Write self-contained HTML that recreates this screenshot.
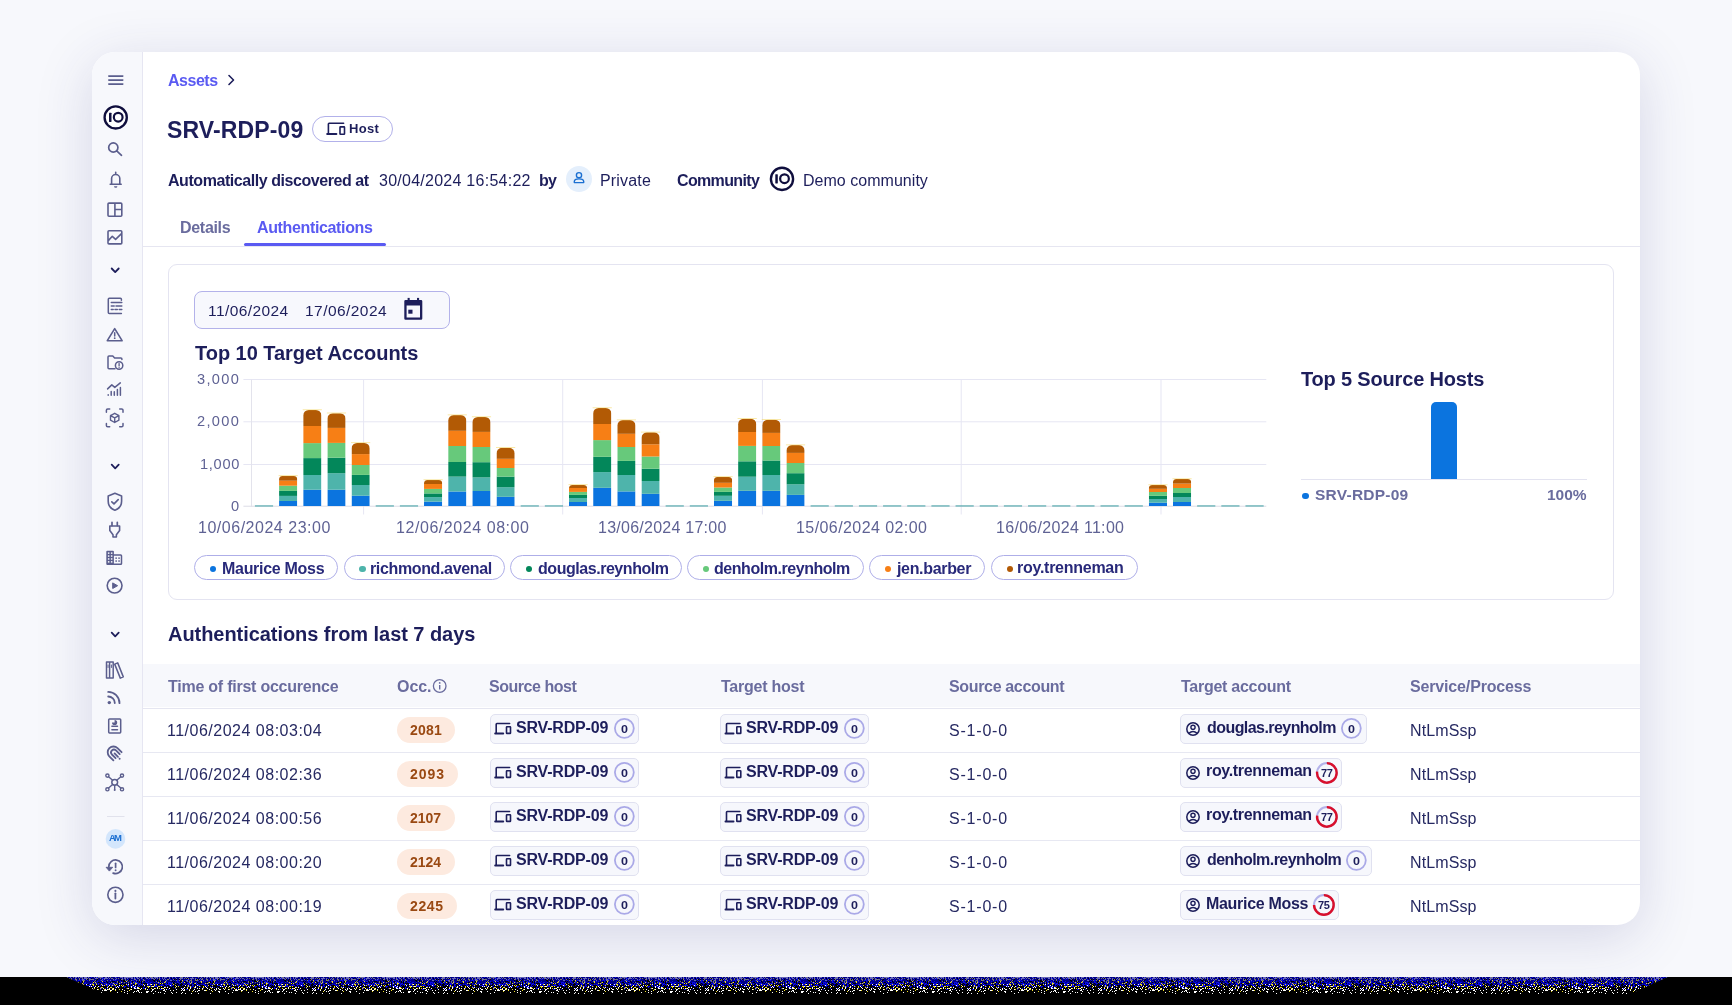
<!DOCTYPE html>
<html><head><meta charset="utf-8"><style>
html,body{margin:0;padding:0;}
body{width:1732px;height:1005px;position:relative;overflow:hidden;background:#f7f8fc;font-family:'Liberation Sans', sans-serif;}
.t{position:absolute;white-space:nowrap;line-height:1;will-change:transform;}
svg{overflow:visible}
</style></head><body>
<div style="position:absolute;left:92.0px;top:52.0px;width:1548.0px;height:873.0px;background:#fff;border-radius:23px;box-shadow:0 12px 56px rgba(50,50,125,0.17);"></div>
<div style="position:absolute;left:92.0px;top:52.0px;width:50.0px;height:873.0px;background:#f7f8fc;border-radius:23px 0 0 23px;border-right:1.5px solid #e6e6f2;"></div>
<div class="t" id="t1" style="left:168.00px;top:72.7px;font-size:16px;font-weight:700;color:#5a5af2;letter-spacing:-0.480px;">Assets</div>
<svg style="position:absolute;left:226px;top:74px" width="10" height="12" viewBox="0 0 10 12"><path d="M3 1.5 L7.5 6 L3 10.5" fill="none" stroke="#1d1e5b" stroke-width="1.6" stroke-linecap="round" stroke-linejoin="round"/></svg>
<div class="t" id="t2" style="left:167.00px;top:119.3px;font-size:23px;font-weight:700;color:#1d1e5b;letter-spacing:0.135px;">SRV-RDP-09</div>
<div style="position:absolute;left:312.4px;top:116.1px;width:80.4px;height:25.6px;box-sizing:border-box;border:1.5px solid #b2b1ea;border-radius:13px;"></div>
<div class="t" id="t3" style="left:349.00px;top:121.9px;font-size:13px;font-weight:700;color:#1d1e5b;letter-spacing:0.333px;">Host</div>
<div class="t" id="t4" style="left:167.70px;top:172.9px;font-size:16px;font-weight:700;color:#1d1e5b;letter-spacing:-0.438px;">Automatically discovered at</div>
<div class="t" id="t5" style="left:379.30px;top:172.9px;font-size:16px;font-weight:400;color:#1d1e5b;letter-spacing:0.258px;">30/04/2024 16:54:22</div>
<div class="t" id="t6" style="left:539.00px;top:172.9px;font-size:16px;font-weight:700;color:#1d1e5b;letter-spacing:-0.800px;">by</div>
<div style="position:absolute;left:566.0px;top:165.7px;width:26.0px;height:26.0px;background:#e4effc;border-radius:50%;"></div>
<div class="t" id="t7" style="left:600.00px;top:172.9px;font-size:16px;font-weight:400;color:#1d1e5b;letter-spacing:0.167px;">Private</div>
<div class="t" id="t8" style="left:676.60px;top:172.9px;font-size:16px;font-weight:700;color:#1d1e5b;letter-spacing:-0.650px;">Community</div>
<div class="t" id="t9" style="left:802.80px;top:172.9px;font-size:16px;font-weight:400;color:#1d1e5b;letter-spacing:0.029px;">Demo community</div>
<div class="t" id="t10" style="left:179.60px;top:219.8px;font-size:16px;font-weight:700;color:#6a6c9e;letter-spacing:-0.301px;">Details</div>
<div class="t" id="t11" style="left:257.00px;top:219.8px;font-size:16px;font-weight:700;color:#5a5af2;letter-spacing:-0.357px;">Authentications</div>
<div style="position:absolute;left:243.8px;top:243.3px;width:141.8px;height:2.6px;background:#5a5af2;border-radius:2px;"></div>
<div style="position:absolute;left:143.0px;top:246.0px;width:1497.0px;height:1.0px;background:#e6e6f1;"></div>
<div style="position:absolute;left:167.5px;top:264.3px;width:1446.5px;height:335.7px;box-sizing:border-box;border:1px solid #e4e4f1;border-radius:9px;"></div>
<div style="position:absolute;left:194.4px;top:291.3px;width:256.0px;height:38.0px;box-sizing:border-box;background:#f7f8fd;border:1.2px solid #b3b2ea;border-radius:8px;"></div>
<div class="t" id="t12" style="left:207.90px;top:302.6px;font-size:15.5px;font-weight:400;color:#1d1e5b;letter-spacing:0.421px;">11/06/2024</div>
<div class="t" id="t13" style="left:305.30px;top:302.6px;font-size:15.5px;font-weight:400;color:#1d1e5b;letter-spacing:0.444px;">17/06/2024</div>
<div class="t" id="t14" style="left:195.30px;top:342.7px;font-size:20px;font-weight:700;color:#1d1e5b;letter-spacing:-0.037px;">Top 10 Target Accounts</div>
<svg style="position:absolute;left:0px;top:0px" width="1732" height="1005" viewBox="0 0 1732 1005"><rect x="243.4" y="379.0" width="1022.9" height="1" fill="#e6e6f3"/><rect x="243.4" y="421.3" width="1022.9" height="1" fill="#e6e6f3"/><rect x="243.4" y="464.0" width="1022.9" height="1" fill="#e6e6f3"/><rect x="251" y="379.5" width="1" height="127" fill="#e3e3ec"/><rect x="363.1" y="379.5" width="1" height="135" fill="#e6e6f3"/><rect x="562.2" y="379.5" width="1" height="135" fill="#e6e6f3"/><rect x="761.9" y="379.5" width="1" height="135" fill="#e6e6f3"/><rect x="960.7" y="379.5" width="1" height="135" fill="#e6e6f3"/><rect x="1160.5" y="379.5" width="1" height="135" fill="#e6e6f3"/><rect x="243.4" y="505.7" width="1022.9" height="1" fill="#dcdce6"/><rect x="254.90" y="505.4" width="18.2" height="1.1" fill="#4ba6aa"/><clipPath id="c1"><rect x="279.06" y="475.90" width="18.2" height="36.10" rx="3.5" ry="3.5"/></clipPath><g clip-path="url(#c1)"><rect x="279.06" y="501.00" width="18.2" height="5.00" fill="#0b74df"/><rect x="279.06" y="495.90" width="18.2" height="5.10" fill="#4eb4ab"/><rect x="279.06" y="490.90" width="18.2" height="5.00" fill="#03875a"/><rect x="279.06" y="485.70" width="18.2" height="5.20" fill="#67c97b"/><rect x="279.06" y="480.70" width="18.2" height="5.00" fill="#f77f15"/><rect x="279.06" y="475.90" width="18.2" height="4.80" fill="#b25a05"/></g><rect x="278.56" y="475.30" width="19.2" height="0.8" fill="#f2d04a" opacity="0.6"/><clipPath id="c2"><rect x="303.22" y="410.00" width="18.2" height="102.00" rx="5.5" ry="5.5"/></clipPath><g clip-path="url(#c2)"><rect x="303.22" y="489.70" width="18.2" height="16.30" fill="#0b74df"/><rect x="303.22" y="475.00" width="18.2" height="14.70" fill="#4eb4ab"/><rect x="303.22" y="458.10" width="18.2" height="16.90" fill="#03875a"/><rect x="303.22" y="443.10" width="18.2" height="15.00" fill="#67c97b"/><rect x="303.22" y="426.00" width="18.2" height="17.10" fill="#f77f15"/><rect x="303.22" y="410.00" width="18.2" height="16.00" fill="#b25a05"/></g><rect x="302.72" y="409.40" width="19.2" height="0.8" fill="#f2d04a" opacity="0.6"/><clipPath id="c3"><rect x="327.38" y="413.20" width="18.2" height="98.80" rx="5.5" ry="5.5"/></clipPath><g clip-path="url(#c3)"><rect x="327.38" y="489.70" width="18.2" height="16.30" fill="#0b74df"/><rect x="327.38" y="473.20" width="18.2" height="16.50" fill="#4eb4ab"/><rect x="327.38" y="457.70" width="18.2" height="15.50" fill="#03875a"/><rect x="327.38" y="442.90" width="18.2" height="14.80" fill="#67c97b"/><rect x="327.38" y="427.90" width="18.2" height="15.00" fill="#f77f15"/><rect x="327.38" y="413.20" width="18.2" height="14.70" fill="#b25a05"/></g><rect x="326.88" y="412.60" width="19.2" height="0.8" fill="#f2d04a" opacity="0.6"/><clipPath id="c4"><rect x="351.54" y="442.90" width="18.2" height="69.10" rx="5.5" ry="5.5"/></clipPath><g clip-path="url(#c4)"><rect x="351.54" y="495.70" width="18.2" height="10.30" fill="#0b74df"/><rect x="351.54" y="485.00" width="18.2" height="10.70" fill="#4eb4ab"/><rect x="351.54" y="474.90" width="18.2" height="10.10" fill="#03875a"/><rect x="351.54" y="465.00" width="18.2" height="9.90" fill="#67c97b"/><rect x="351.54" y="454.10" width="18.2" height="10.90" fill="#f77f15"/><rect x="351.54" y="442.90" width="18.2" height="11.20" fill="#b25a05"/></g><rect x="351.04" y="442.30" width="19.2" height="0.8" fill="#f2d04a" opacity="0.6"/><rect x="375.70" y="505.4" width="18.2" height="1.1" fill="#4ba6aa"/><rect x="399.86" y="505.4" width="18.2" height="1.1" fill="#4ba6aa"/><clipPath id="c7"><rect x="424.02" y="480.00" width="18.2" height="32.00" rx="3.5" ry="3.5"/></clipPath><g clip-path="url(#c7)"><rect x="424.02" y="501.60" width="18.2" height="4.40" fill="#0b74df"/><rect x="424.02" y="497.10" width="18.2" height="4.50" fill="#4eb4ab"/><rect x="424.02" y="493.40" width="18.2" height="3.70" fill="#03875a"/><rect x="424.02" y="488.90" width="18.2" height="4.50" fill="#67c97b"/><rect x="424.02" y="484.00" width="18.2" height="4.90" fill="#f77f15"/><rect x="424.02" y="480.00" width="18.2" height="4.00" fill="#b25a05"/></g><rect x="423.52" y="479.40" width="19.2" height="0.8" fill="#f2d04a" opacity="0.6"/><clipPath id="c8"><rect x="448.18" y="415.10" width="18.2" height="96.90" rx="5.5" ry="5.5"/></clipPath><g clip-path="url(#c8)"><rect x="448.18" y="491.50" width="18.2" height="14.50" fill="#0b74df"/><rect x="448.18" y="476.60" width="18.2" height="14.90" fill="#4eb4ab"/><rect x="448.18" y="462.00" width="18.2" height="14.60" fill="#03875a"/><rect x="448.18" y="446.00" width="18.2" height="16.00" fill="#67c97b"/><rect x="448.18" y="430.80" width="18.2" height="15.20" fill="#f77f15"/><rect x="448.18" y="415.10" width="18.2" height="15.70" fill="#b25a05"/></g><rect x="447.68" y="414.50" width="19.2" height="0.8" fill="#f2d04a" opacity="0.6"/><clipPath id="c9"><rect x="472.34" y="417.00" width="18.2" height="95.00" rx="5.5" ry="5.5"/></clipPath><g clip-path="url(#c9)"><rect x="472.34" y="491.00" width="18.2" height="15.00" fill="#0b74df"/><rect x="472.34" y="477.40" width="18.2" height="13.60" fill="#4eb4ab"/><rect x="472.34" y="462.20" width="18.2" height="15.20" fill="#03875a"/><rect x="472.34" y="447.00" width="18.2" height="15.20" fill="#67c97b"/><rect x="472.34" y="431.90" width="18.2" height="15.10" fill="#f77f15"/><rect x="472.34" y="417.00" width="18.2" height="14.90" fill="#b25a05"/></g><rect x="471.84" y="416.40" width="19.2" height="0.8" fill="#f2d04a" opacity="0.6"/><clipPath id="c10"><rect x="496.50" y="447.80" width="18.2" height="64.20" rx="5.5" ry="5.5"/></clipPath><g clip-path="url(#c10)"><rect x="496.50" y="496.80" width="18.2" height="9.20" fill="#0b74df"/><rect x="496.50" y="487.20" width="18.2" height="9.60" fill="#4eb4ab"/><rect x="496.50" y="476.60" width="18.2" height="10.60" fill="#03875a"/><rect x="496.50" y="468.00" width="18.2" height="8.60" fill="#67c97b"/><rect x="496.50" y="458.80" width="18.2" height="9.20" fill="#f77f15"/><rect x="496.50" y="447.80" width="18.2" height="11.00" fill="#b25a05"/></g><rect x="496.00" y="447.20" width="19.2" height="0.8" fill="#f2d04a" opacity="0.6"/><rect x="520.66" y="505.4" width="18.2" height="1.1" fill="#4ba6aa"/><rect x="544.82" y="505.4" width="18.2" height="1.1" fill="#4ba6aa"/><clipPath id="c13"><rect x="568.98" y="484.90" width="18.2" height="27.10" rx="3.5" ry="3.5"/></clipPath><g clip-path="url(#c13)"><rect x="568.98" y="502.00" width="18.2" height="4.00" fill="#0b74df"/><rect x="568.98" y="498.00" width="18.2" height="4.00" fill="#4eb4ab"/><rect x="568.98" y="494.90" width="18.2" height="3.10" fill="#03875a"/><rect x="568.98" y="491.90" width="18.2" height="3.00" fill="#67c97b"/><rect x="568.98" y="488.00" width="18.2" height="3.90" fill="#f77f15"/><rect x="568.98" y="484.90" width="18.2" height="3.10" fill="#b25a05"/></g><rect x="568.48" y="484.30" width="19.2" height="0.8" fill="#f2d04a" opacity="0.6"/><clipPath id="c14"><rect x="593.14" y="408.00" width="18.2" height="104.00" rx="5.5" ry="5.5"/></clipPath><g clip-path="url(#c14)"><rect x="593.14" y="487.80" width="18.2" height="18.20" fill="#0b74df"/><rect x="593.14" y="472.10" width="18.2" height="15.70" fill="#4eb4ab"/><rect x="593.14" y="456.80" width="18.2" height="15.30" fill="#03875a"/><rect x="593.14" y="440.10" width="18.2" height="16.70" fill="#67c97b"/><rect x="593.14" y="424.00" width="18.2" height="16.10" fill="#f77f15"/><rect x="593.14" y="408.00" width="18.2" height="16.00" fill="#b25a05"/></g><rect x="592.64" y="407.40" width="19.2" height="0.8" fill="#f2d04a" opacity="0.6"/><clipPath id="c15"><rect x="617.30" y="420.10" width="18.2" height="91.90" rx="5.5" ry="5.5"/></clipPath><g clip-path="url(#c15)"><rect x="617.30" y="491.40" width="18.2" height="14.60" fill="#0b74df"/><rect x="617.30" y="475.00" width="18.2" height="16.40" fill="#4eb4ab"/><rect x="617.30" y="460.90" width="18.2" height="14.10" fill="#03875a"/><rect x="617.30" y="447.00" width="18.2" height="13.90" fill="#67c97b"/><rect x="617.30" y="433.80" width="18.2" height="13.20" fill="#f77f15"/><rect x="617.30" y="420.10" width="18.2" height="13.70" fill="#b25a05"/></g><rect x="616.80" y="419.50" width="19.2" height="0.8" fill="#f2d04a" opacity="0.6"/><clipPath id="c16"><rect x="641.46" y="432.30" width="18.2" height="79.70" rx="5.5" ry="5.5"/></clipPath><g clip-path="url(#c16)"><rect x="641.46" y="493.80" width="18.2" height="12.20" fill="#0b74df"/><rect x="641.46" y="481.00" width="18.2" height="12.80" fill="#4eb4ab"/><rect x="641.46" y="468.70" width="18.2" height="12.30" fill="#03875a"/><rect x="641.46" y="456.50" width="18.2" height="12.20" fill="#67c97b"/><rect x="641.46" y="444.30" width="18.2" height="12.20" fill="#f77f15"/><rect x="641.46" y="432.30" width="18.2" height="12.00" fill="#b25a05"/></g><rect x="640.96" y="431.70" width="19.2" height="0.8" fill="#f2d04a" opacity="0.6"/><rect x="665.62" y="505.4" width="18.2" height="1.1" fill="#4ba6aa"/><rect x="689.78" y="505.4" width="18.2" height="1.1" fill="#4ba6aa"/><clipPath id="c19"><rect x="713.94" y="476.90" width="18.2" height="35.10" rx="3.5" ry="3.5"/></clipPath><g clip-path="url(#c19)"><rect x="713.94" y="500.80" width="18.2" height="5.20" fill="#0b74df"/><rect x="713.94" y="495.80" width="18.2" height="5.00" fill="#4eb4ab"/><rect x="713.94" y="491.90" width="18.2" height="3.90" fill="#03875a"/><rect x="713.94" y="487.50" width="18.2" height="4.40" fill="#67c97b"/><rect x="713.94" y="482.80" width="18.2" height="4.70" fill="#f77f15"/><rect x="713.94" y="476.90" width="18.2" height="5.90" fill="#b25a05"/></g><rect x="713.44" y="476.30" width="19.2" height="0.8" fill="#f2d04a" opacity="0.6"/><clipPath id="c20"><rect x="738.10" y="418.70" width="18.2" height="93.30" rx="5.5" ry="5.5"/></clipPath><g clip-path="url(#c20)"><rect x="738.10" y="490.80" width="18.2" height="15.20" fill="#0b74df"/><rect x="738.10" y="476.70" width="18.2" height="14.10" fill="#4eb4ab"/><rect x="738.10" y="461.30" width="18.2" height="15.40" fill="#03875a"/><rect x="738.10" y="445.90" width="18.2" height="15.40" fill="#67c97b"/><rect x="738.10" y="432.00" width="18.2" height="13.90" fill="#f77f15"/><rect x="738.10" y="418.70" width="18.2" height="13.30" fill="#b25a05"/></g><rect x="737.60" y="418.10" width="19.2" height="0.8" fill="#f2d04a" opacity="0.6"/><clipPath id="c21"><rect x="762.26" y="419.70" width="18.2" height="92.30" rx="5.5" ry="5.5"/></clipPath><g clip-path="url(#c21)"><rect x="762.26" y="490.80" width="18.2" height="15.20" fill="#0b74df"/><rect x="762.26" y="475.00" width="18.2" height="15.80" fill="#4eb4ab"/><rect x="762.26" y="460.50" width="18.2" height="14.50" fill="#03875a"/><rect x="762.26" y="446.00" width="18.2" height="14.50" fill="#67c97b"/><rect x="762.26" y="432.90" width="18.2" height="13.10" fill="#f77f15"/><rect x="762.26" y="419.70" width="18.2" height="13.20" fill="#b25a05"/></g><rect x="761.76" y="419.10" width="19.2" height="0.8" fill="#f2d04a" opacity="0.6"/><clipPath id="c22"><rect x="786.42" y="445.10" width="18.2" height="66.90" rx="5.5" ry="5.5"/></clipPath><g clip-path="url(#c22)"><rect x="786.42" y="494.90" width="18.2" height="11.10" fill="#0b74df"/><rect x="786.42" y="484.30" width="18.2" height="10.60" fill="#4eb4ab"/><rect x="786.42" y="473.20" width="18.2" height="11.10" fill="#03875a"/><rect x="786.42" y="463.00" width="18.2" height="10.20" fill="#67c97b"/><rect x="786.42" y="452.90" width="18.2" height="10.10" fill="#f77f15"/><rect x="786.42" y="445.10" width="18.2" height="7.80" fill="#b25a05"/></g><rect x="785.92" y="444.50" width="19.2" height="0.8" fill="#f2d04a" opacity="0.6"/><rect x="810.58" y="505.4" width="18.2" height="1.1" fill="#4ba6aa"/><rect x="834.74" y="505.4" width="18.2" height="1.1" fill="#4ba6aa"/><rect x="858.90" y="505.4" width="18.2" height="1.1" fill="#4ba6aa"/><rect x="883.06" y="505.4" width="18.2" height="1.1" fill="#4ba6aa"/><rect x="907.22" y="505.4" width="18.2" height="1.1" fill="#4ba6aa"/><rect x="931.38" y="505.4" width="18.2" height="1.1" fill="#4ba6aa"/><rect x="955.54" y="505.4" width="18.2" height="1.1" fill="#4ba6aa"/><rect x="979.70" y="505.4" width="18.2" height="1.1" fill="#4ba6aa"/><rect x="1003.86" y="505.4" width="18.2" height="1.1" fill="#4ba6aa"/><rect x="1028.02" y="505.4" width="18.2" height="1.1" fill="#4ba6aa"/><rect x="1052.18" y="505.4" width="18.2" height="1.1" fill="#4ba6aa"/><rect x="1076.34" y="505.4" width="18.2" height="1.1" fill="#4ba6aa"/><rect x="1100.50" y="505.4" width="18.2" height="1.1" fill="#4ba6aa"/><rect x="1124.66" y="505.4" width="18.2" height="1.1" fill="#4ba6aa"/><clipPath id="c37"><rect x="1148.82" y="485.00" width="18.2" height="27.00" rx="3.5" ry="3.5"/></clipPath><g clip-path="url(#c37)"><rect x="1148.82" y="502.70" width="18.2" height="3.30" fill="#0b74df"/><rect x="1148.82" y="499.00" width="18.2" height="3.70" fill="#4eb4ab"/><rect x="1148.82" y="495.80" width="18.2" height="3.20" fill="#03875a"/><rect x="1148.82" y="492.00" width="18.2" height="3.80" fill="#67c97b"/><rect x="1148.82" y="488.80" width="18.2" height="3.20" fill="#f77f15"/><rect x="1148.82" y="485.00" width="18.2" height="3.80" fill="#b25a05"/></g><rect x="1148.32" y="484.40" width="19.2" height="0.8" fill="#f2d04a" opacity="0.6"/><clipPath id="c38"><rect x="1172.98" y="479.00" width="18.2" height="33.00" rx="3.5" ry="3.5"/></clipPath><g clip-path="url(#c38)"><rect x="1172.98" y="502.00" width="18.2" height="4.00" fill="#0b74df"/><rect x="1172.98" y="497.00" width="18.2" height="5.00" fill="#4eb4ab"/><rect x="1172.98" y="493.00" width="18.2" height="4.00" fill="#03875a"/><rect x="1172.98" y="488.00" width="18.2" height="5.00" fill="#67c97b"/><rect x="1172.98" y="483.60" width="18.2" height="4.40" fill="#f77f15"/><rect x="1172.98" y="479.00" width="18.2" height="4.60" fill="#b25a05"/></g><rect x="1172.48" y="478.40" width="19.2" height="0.8" fill="#f2d04a" opacity="0.6"/><rect x="1197.14" y="505.4" width="18.2" height="1.1" fill="#4ba6aa"/><rect x="1221.30" y="505.4" width="18.2" height="1.1" fill="#4ba6aa"/><rect x="1245.46" y="505.4" width="18.2" height="1.1" fill="#4ba6aa"/></svg>
<div class="t" id="y3" style="left:197.20px;top:372.4px;font-size:14.6px;font-weight:400;color:#5f6294;letter-spacing:1.350px;">3,000</div>
<div class="t" id="y2" style="left:197.20px;top:413.7px;font-size:14.6px;font-weight:400;color:#5f6294;letter-spacing:1.350px;">2,000</div>
<div class="t" id="y1" style="left:199.90px;top:456.7px;font-size:14.6px;font-weight:400;color:#5f6294;letter-spacing:0.700px;">1,000</div>
<div class="t" id="y0" style="left:231.40px;top:498.6px;font-size:14.6px;font-weight:400;color:#5f6294;letter-spacing:0.000px;">0</div>
<div class="t" id="t19" style="left:197.50px;top:520.3px;font-size:16px;font-weight:400;color:#5f6294;letter-spacing:0.520px;">10/06/2024 23:00</div>
<div class="t" id="t20" style="left:396.20px;top:520.3px;font-size:16px;font-weight:400;color:#5f6294;letter-spacing:0.561px;">12/06/2024 08:00</div>
<div class="t" id="t21" style="left:597.90px;top:520.3px;font-size:16px;font-weight:400;color:#5f6294;letter-spacing:0.253px;">13/06/2024 17:00</div>
<div class="t" id="t22" style="left:796.30px;top:520.3px;font-size:16px;font-weight:400;color:#5f6294;letter-spacing:0.426px;">15/06/2024 02:00</div>
<div class="t" id="t23" style="left:996.20px;top:520.3px;font-size:16px;font-weight:400;color:#5f6294;letter-spacing:0.307px;">16/06/2024 11:00</div>
<div style="position:absolute;left:194.2px;top:555.1px;width:144.1px;height:25.3px;box-sizing:border-box;border:1.3px solid #aeaee8;border-radius:13px;"></div>
<div style="position:absolute;left:209.8px;top:565.5px;width:6.6px;height:6.6px;background:#0b74df;border-radius:50%;"></div>
<div class="t" id="t24" style="left:221.60px;top:560.6px;font-size:16px;font-weight:700;color:#28297a;letter-spacing:-0.292px;">Maurice Moss</div>
<div style="position:absolute;left:343.5px;top:555.1px;width:161.7px;height:25.3px;box-sizing:border-box;border:1.3px solid #aeaee8;border-radius:13px;"></div>
<div style="position:absolute;left:359.1px;top:565.5px;width:6.6px;height:6.6px;background:#4eb4ab;border-radius:50%;"></div>
<div class="t" id="t25" style="left:369.60px;top:560.6px;font-size:16px;font-weight:700;color:#28297a;letter-spacing:-0.357px;">richmond.avenal</div>
<div style="position:absolute;left:510.0px;top:555.1px;width:171.6px;height:25.3px;box-sizing:border-box;border:1.3px solid #aeaee8;border-radius:13px;"></div>
<div style="position:absolute;left:525.6px;top:565.5px;width:6.6px;height:6.6px;background:#03875a;border-radius:50%;"></div>
<div class="t" id="t26" style="left:538.00px;top:560.6px;font-size:16px;font-weight:700;color:#28297a;letter-spacing:-0.454px;">douglas.reynholm</div>
<div style="position:absolute;left:687.2px;top:555.1px;width:176.7px;height:25.3px;box-sizing:border-box;border:1.3px solid #aeaee8;border-radius:13px;"></div>
<div style="position:absolute;left:702.8px;top:565.5px;width:6.6px;height:6.6px;background:#67c97b;border-radius:50%;"></div>
<div class="t" id="t27" style="left:714.20px;top:560.6px;font-size:16px;font-weight:700;color:#28297a;letter-spacing:-0.453px;">denholm.reynholm</div>
<div style="position:absolute;left:869.1px;top:555.1px;width:116.3px;height:25.3px;box-sizing:border-box;border:1.3px solid #aeaee8;border-radius:13px;"></div>
<div style="position:absolute;left:884.7px;top:565.5px;width:6.6px;height:6.6px;background:#f77f15;border-radius:50%;"></div>
<div class="t" id="t28" style="left:896.50px;top:560.6px;font-size:16px;font-weight:700;color:#28297a;letter-spacing:-0.333px;">jen.barber</div>
<div style="position:absolute;left:990.9px;top:555.1px;width:146.7px;height:25.3px;box-sizing:border-box;border:1.3px solid #aeaee8;border-radius:13px;"></div>
<div style="position:absolute;left:1006.5px;top:565.5px;width:6.6px;height:6.6px;background:#b25a05;border-radius:50%;"></div>
<div class="t" id="t29" style="left:1016.60px;top:559.6px;font-size:16px;font-weight:700;color:#28297a;letter-spacing:-0.266px;">roy.trenneman</div>
<div class="t" id="t30" style="left:1301.20px;top:368.5px;font-size:20px;font-weight:700;color:#1d1e5b;letter-spacing:-0.176px;">Top 5 Source Hosts</div>
<div style="position:absolute;left:1430.8px;top:401.7px;width:26.5px;height:77.6px;background:#0b74df;border-radius:5px 5px 0 0;"></div>
<div style="position:absolute;left:1301.0px;top:478.8px;width:285.8px;height:1.0px;background:#e3e3f0;"></div>
<div style="position:absolute;left:1302.2px;top:492.7px;width:6.6px;height:6.6px;background:#0b74df;border-radius:50%;"></div>
<div class="t" id="t31" style="left:1315.10px;top:487.0px;font-size:15.5px;font-weight:700;color:#6a6c9e;letter-spacing:0.246px;">SRV-RDP-09</div>
<div class="t" id="t32" style="left:1546.80px;top:487.0px;font-size:15.5px;font-weight:700;color:#6a6c9e;letter-spacing:-0.001px;">100%</div>
<div class="t" id="t33" style="left:167.60px;top:623.8px;font-size:20px;font-weight:700;color:#1d1e5b;letter-spacing:-0.051px;">Authentications from last 7 days</div>
<div style="position:absolute;left:143.0px;top:664.2px;width:1497.0px;height:43.3px;background:#f7f8fc;"></div>
<div style="position:absolute;left:143.0px;top:707.5px;width:1497.0px;height:1.5px;background:#e5e6f1;"></div>
<div class="t" id="t34" style="left:168.00px;top:678.7px;font-size:16px;font-weight:700;color:#6a6c9e;letter-spacing:-0.236px;">Time of first occurence</div>
<div class="t" id="t35" style="left:397.30px;top:678.7px;font-size:16px;font-weight:700;color:#6a6c9e;letter-spacing:-0.068px;">Occ.</div>
<div class="t" id="t36" style="left:489.20px;top:678.7px;font-size:16px;font-weight:700;color:#6a6c9e;letter-spacing:-0.460px;">Source host</div>
<div class="t" id="t37" style="left:720.60px;top:678.7px;font-size:16px;font-weight:700;color:#6a6c9e;letter-spacing:-0.240px;">Target host</div>
<div class="t" id="t38" style="left:949.20px;top:678.7px;font-size:16px;font-weight:700;color:#6a6c9e;letter-spacing:-0.339px;">Source account</div>
<div class="t" id="t39" style="left:1181.30px;top:678.7px;font-size:16px;font-weight:700;color:#6a6c9e;letter-spacing:-0.263px;">Target account</div>
<div class="t" id="t40" style="left:1409.50px;top:678.7px;font-size:16px;font-weight:700;color:#6a6c9e;letter-spacing:-0.157px;">Service/Process</div>
<svg style="position:absolute;left:432px;top:678px" width="16" height="16" viewBox="0 0 16 16"><circle cx="7.7" cy="8" r="6.3" fill="none" stroke="#6a6c9e" stroke-width="1.3"/><rect x="7" y="7" width="1.4" height="4.5" fill="#6a6c9e"/><circle cx="7.7" cy="4.9" r="0.9" fill="#6a6c9e"/></svg>
<div style="position:absolute;left:143.0px;top:751.7px;width:1497.0px;height:1.0px;background:#e7e8f2;"></div>
<div style="position:absolute;left:143.0px;top:796.0px;width:1497.0px;height:1.0px;background:#e7e8f2;"></div>
<div style="position:absolute;left:143.0px;top:840.0px;width:1497.0px;height:1.0px;background:#e7e8f2;"></div>
<div style="position:absolute;left:143.0px;top:884.1px;width:1497.0px;height:1.0px;background:#e7e8f2;"></div>
<div class="t" id="t41" style="left:167.00px;top:722.7px;font-size:16px;font-weight:400;color:#262962;letter-spacing:0.500px;">11/06/2024 08:03:04</div>
<div style="position:absolute;left:397.3px;top:717.3px;width:57.9px;height:25.9px;background:#fdeadf;border-radius:13px;"></div>
<div class="t" id="t42" style="left:410.20px;top:722.8px;font-size:14px;font-weight:700;color:#9a4912;letter-spacing:0.198px;">2081</div>
<div style="position:absolute;left:489.9px;top:713.8px;width:149.1px;height:29.8px;box-sizing:border-box;background:#f6f7fc;border:1px solid #e0e1f0;border-radius:5px;"></div>
<svg style="position:absolute;left:0px;top:0px" width="1732" height="1005" viewBox="0 0 1732 1005"><g transform="translate(0 0)"><path d="M496.2 733 V724.2 a0.7 0.7 0 0 1 0.7 -0.7 H509.6" fill="none" stroke="#1d1e5b" stroke-width="1.6" stroke-linecap="round"/><path d="M495.2 733.4 H503.2" stroke="#1d1e5b" stroke-width="2.0" stroke-linecap="round"/><rect x="506.5" y="726.8" width="4.0" height="6.6" rx="0.5" fill="#f6f7fc" stroke="#1d1e5b" stroke-width="1.6"/></g></svg>
<div class="t" id="t43" style="left:516.10px;top:720.9px;font-size:16px;font-weight:700;color:#1d1e5b;letter-spacing:-0.180px;margin-top:-1px;">SRV-RDP-09</div>
<svg style="position:absolute;left:613.9px;top:718.1px" width="21" height="21" viewBox="0 0 21 21"><circle cx="10.35" cy="10.35" r="9.45" fill="none" stroke="#aaa9e7" stroke-width="1.8"/></svg>
<div class="t" id="z0_0" style="left:620.60px;top:725.4px;font-size:10px;font-weight:700;color:#1d1e5b;letter-spacing:0.000px;transform:scaleX(1.25);transform-origin:0 0;">0</div>
<div style="position:absolute;left:720.2px;top:713.8px;width:149.1px;height:29.8px;box-sizing:border-box;background:#f6f7fc;border:1px solid #e0e1f0;border-radius:5px;"></div>
<svg style="position:absolute;left:0px;top:0px" width="1732" height="1005" viewBox="0 0 1732 1005"><g transform="translate(230.29999999999995 0)"><path d="M496.2 733 V724.2 a0.7 0.7 0 0 1 0.7 -0.7 H509.6" fill="none" stroke="#1d1e5b" stroke-width="1.6" stroke-linecap="round"/><path d="M495.2 733.4 H503.2" stroke="#1d1e5b" stroke-width="2.0" stroke-linecap="round"/><rect x="506.5" y="726.8" width="4.0" height="6.6" rx="0.5" fill="#f6f7fc" stroke="#1d1e5b" stroke-width="1.6"/></g></svg>
<div class="t" id="t45" style="left:746.20px;top:720.9px;font-size:16px;font-weight:700;color:#1d1e5b;letter-spacing:-0.180px;margin-top:-1px;">SRV-RDP-09</div>
<svg style="position:absolute;left:844.2px;top:718.1px" width="21" height="21" viewBox="0 0 21 21"><circle cx="10.35" cy="10.35" r="9.45" fill="none" stroke="#aaa9e7" stroke-width="1.8"/></svg>
<div class="t" id="z0_230" style="left:850.90px;top:725.4px;font-size:10px;font-weight:700;color:#1d1e5b;letter-spacing:0.000px;transform:scaleX(1.25);transform-origin:0 0;">0</div>
<div class="t" id="t47" style="left:949.20px;top:722.7px;font-size:16px;font-weight:400;color:#262962;letter-spacing:0.800px;">S-1-0-0</div>
<div style="position:absolute;left:1179.9px;top:713.8px;width:187.0px;height:29.8px;box-sizing:border-box;background:#f6f7fc;border:1px solid #e0e1f0;border-radius:5px;"></div>
<svg style="position:absolute;left:1186px;top:722px" width="15" height="15" viewBox="0 0 15 15"><circle cx="7" cy="7" r="6.2" fill="none" stroke="#1d1e5b" stroke-width="1.5"/><circle cx="7" cy="5.3" r="2.1" fill="none" stroke="#1d1e5b" stroke-width="1.4"/><path d="M2.8 11.3 Q7 7.6 11.2 11.3" fill="none" stroke="#1d1e5b" stroke-width="1.4"/></svg>
<div class="t" id="t48" style="left:1207.30px;top:720.9px;font-size:16px;font-weight:700;color:#1d1e5b;letter-spacing:-0.559px;margin-top:-1px;">douglas.reynholm</div>
<svg style="position:absolute;left:1341.0px;top:718.1px" width="21" height="21" viewBox="0 0 21 21"><circle cx="10.35" cy="10.35" r="9.45" fill="none" stroke="#aaa9e7" stroke-width="1.8"/></svg>
<div class="t" id="sc0" style="left:1347.80px;top:725.4px;font-size:10px;font-weight:700;color:#1d1e5b;letter-spacing:0.000px;transform:scaleX(1.25);transform-origin:0 0;">0</div>
<div class="t" id="t50" style="left:1410.30px;top:722.7px;font-size:16px;font-weight:400;color:#262962;letter-spacing:0.100px;">NtLmSsp</div>
<div class="t" id="t51" style="left:167.00px;top:766.7px;font-size:16px;font-weight:400;color:#262962;letter-spacing:0.500px;">11/06/2024 08:02:36</div>
<div style="position:absolute;left:397.3px;top:761.3px;width:60.8px;height:25.9px;background:#fdeadf;border-radius:13px;"></div>
<div class="t" id="t52" style="left:410.20px;top:766.8px;font-size:14px;font-weight:700;color:#9a4912;letter-spacing:1.000px;">2093</div>
<div style="position:absolute;left:489.9px;top:757.8px;width:149.1px;height:29.8px;box-sizing:border-box;background:#f6f7fc;border:1px solid #e0e1f0;border-radius:5px;"></div>
<svg style="position:absolute;left:0px;top:0px" width="1732" height="1005" viewBox="0 0 1732 1005"><g transform="translate(0 44)"><path d="M496.2 733 V724.2 a0.7 0.7 0 0 1 0.7 -0.7 H509.6" fill="none" stroke="#1d1e5b" stroke-width="1.6" stroke-linecap="round"/><path d="M495.2 733.4 H503.2" stroke="#1d1e5b" stroke-width="2.0" stroke-linecap="round"/><rect x="506.5" y="726.8" width="4.0" height="6.6" rx="0.5" fill="#f6f7fc" stroke="#1d1e5b" stroke-width="1.6"/></g></svg>
<div class="t" id="t53" style="left:516.10px;top:764.9px;font-size:16px;font-weight:700;color:#1d1e5b;letter-spacing:-0.180px;margin-top:-1px;">SRV-RDP-09</div>
<svg style="position:absolute;left:613.9px;top:762.1px" width="21" height="21" viewBox="0 0 21 21"><circle cx="10.35" cy="10.35" r="9.45" fill="none" stroke="#aaa9e7" stroke-width="1.8"/></svg>
<div class="t" id="z1_0" style="left:620.60px;top:769.4px;font-size:10px;font-weight:700;color:#1d1e5b;letter-spacing:0.000px;transform:scaleX(1.25);transform-origin:0 0;">0</div>
<div style="position:absolute;left:720.2px;top:757.8px;width:149.1px;height:29.8px;box-sizing:border-box;background:#f6f7fc;border:1px solid #e0e1f0;border-radius:5px;"></div>
<svg style="position:absolute;left:0px;top:0px" width="1732" height="1005" viewBox="0 0 1732 1005"><g transform="translate(230.29999999999995 44)"><path d="M496.2 733 V724.2 a0.7 0.7 0 0 1 0.7 -0.7 H509.6" fill="none" stroke="#1d1e5b" stroke-width="1.6" stroke-linecap="round"/><path d="M495.2 733.4 H503.2" stroke="#1d1e5b" stroke-width="2.0" stroke-linecap="round"/><rect x="506.5" y="726.8" width="4.0" height="6.6" rx="0.5" fill="#f6f7fc" stroke="#1d1e5b" stroke-width="1.6"/></g></svg>
<div class="t" id="t55" style="left:746.20px;top:764.9px;font-size:16px;font-weight:700;color:#1d1e5b;letter-spacing:-0.180px;margin-top:-1px;">SRV-RDP-09</div>
<svg style="position:absolute;left:844.2px;top:762.1px" width="21" height="21" viewBox="0 0 21 21"><circle cx="10.35" cy="10.35" r="9.45" fill="none" stroke="#aaa9e7" stroke-width="1.8"/></svg>
<div class="t" id="z1_230" style="left:850.90px;top:769.4px;font-size:10px;font-weight:700;color:#1d1e5b;letter-spacing:0.000px;transform:scaleX(1.25);transform-origin:0 0;">0</div>
<div class="t" id="t57" style="left:949.20px;top:766.7px;font-size:16px;font-weight:400;color:#262962;letter-spacing:0.800px;">S-1-0-0</div>
<div style="position:absolute;left:1179.9px;top:757.8px;width:162.0px;height:29.8px;box-sizing:border-box;background:#f6f7fc;border:1px solid #e0e1f0;border-radius:5px;"></div>
<svg style="position:absolute;left:1186px;top:766px" width="15" height="15" viewBox="0 0 15 15"><circle cx="7" cy="7" r="6.2" fill="none" stroke="#1d1e5b" stroke-width="1.5"/><circle cx="7" cy="5.3" r="2.1" fill="none" stroke="#1d1e5b" stroke-width="1.4"/><path d="M2.8 11.3 Q7 7.6 11.2 11.3" fill="none" stroke="#1d1e5b" stroke-width="1.4"/></svg>
<div class="t" id="t58" style="left:1206.30px;top:763.9px;font-size:16px;font-weight:700;color:#1d1e5b;letter-spacing:-0.332px;margin-top:-1px;">roy.trenneman</div>
<svg style="position:absolute;left:1316.0px;top:762.1px" width="21" height="21" viewBox="0 0 21 21"><circle cx="10.85" cy="10.9" r="9.8" fill="none" stroke="#b4b3ea" stroke-width="2.0"/><path d="M10.85 1.10 A9.8 9.8 0 1 1 1.13 9.67" fill="none" stroke="#d90f2b" stroke-width="2.4"/></svg>
<div class="t" id="sc1" style="left:1321.20px;top:768.2px;font-size:11px;font-weight:700;color:#1d1e5b;letter-spacing:-0.350px;">77</div>
<div class="t" id="t60" style="left:1410.30px;top:766.7px;font-size:16px;font-weight:400;color:#262962;letter-spacing:0.100px;">NtLmSsp</div>
<div class="t" id="t61" style="left:167.00px;top:810.7px;font-size:16px;font-weight:400;color:#262962;letter-spacing:0.500px;">11/06/2024 08:00:56</div>
<div style="position:absolute;left:397.3px;top:805.3px;width:57.6px;height:25.9px;background:#fdeadf;border-radius:13px;"></div>
<div class="t" id="t62" style="left:410.20px;top:810.8px;font-size:14px;font-weight:700;color:#9a4912;letter-spacing:-0.067px;">2107</div>
<div style="position:absolute;left:489.9px;top:801.8px;width:149.1px;height:29.8px;box-sizing:border-box;background:#f6f7fc;border:1px solid #e0e1f0;border-radius:5px;"></div>
<svg style="position:absolute;left:0px;top:0px" width="1732" height="1005" viewBox="0 0 1732 1005"><g transform="translate(0 88)"><path d="M496.2 733 V724.2 a0.7 0.7 0 0 1 0.7 -0.7 H509.6" fill="none" stroke="#1d1e5b" stroke-width="1.6" stroke-linecap="round"/><path d="M495.2 733.4 H503.2" stroke="#1d1e5b" stroke-width="2.0" stroke-linecap="round"/><rect x="506.5" y="726.8" width="4.0" height="6.6" rx="0.5" fill="#f6f7fc" stroke="#1d1e5b" stroke-width="1.6"/></g></svg>
<div class="t" id="t63" style="left:516.10px;top:808.9px;font-size:16px;font-weight:700;color:#1d1e5b;letter-spacing:-0.180px;margin-top:-1px;">SRV-RDP-09</div>
<svg style="position:absolute;left:613.9px;top:806.1px" width="21" height="21" viewBox="0 0 21 21"><circle cx="10.35" cy="10.35" r="9.45" fill="none" stroke="#aaa9e7" stroke-width="1.8"/></svg>
<div class="t" id="z2_0" style="left:620.60px;top:813.4px;font-size:10px;font-weight:700;color:#1d1e5b;letter-spacing:0.000px;transform:scaleX(1.25);transform-origin:0 0;">0</div>
<div style="position:absolute;left:720.2px;top:801.8px;width:149.1px;height:29.8px;box-sizing:border-box;background:#f6f7fc;border:1px solid #e0e1f0;border-radius:5px;"></div>
<svg style="position:absolute;left:0px;top:0px" width="1732" height="1005" viewBox="0 0 1732 1005"><g transform="translate(230.29999999999995 88)"><path d="M496.2 733 V724.2 a0.7 0.7 0 0 1 0.7 -0.7 H509.6" fill="none" stroke="#1d1e5b" stroke-width="1.6" stroke-linecap="round"/><path d="M495.2 733.4 H503.2" stroke="#1d1e5b" stroke-width="2.0" stroke-linecap="round"/><rect x="506.5" y="726.8" width="4.0" height="6.6" rx="0.5" fill="#f6f7fc" stroke="#1d1e5b" stroke-width="1.6"/></g></svg>
<div class="t" id="t65" style="left:746.20px;top:808.9px;font-size:16px;font-weight:700;color:#1d1e5b;letter-spacing:-0.180px;margin-top:-1px;">SRV-RDP-09</div>
<svg style="position:absolute;left:844.2px;top:806.1px" width="21" height="21" viewBox="0 0 21 21"><circle cx="10.35" cy="10.35" r="9.45" fill="none" stroke="#aaa9e7" stroke-width="1.8"/></svg>
<div class="t" id="z2_230" style="left:850.90px;top:813.4px;font-size:10px;font-weight:700;color:#1d1e5b;letter-spacing:0.000px;transform:scaleX(1.25);transform-origin:0 0;">0</div>
<div class="t" id="t67" style="left:949.20px;top:810.7px;font-size:16px;font-weight:400;color:#262962;letter-spacing:0.800px;">S-1-0-0</div>
<div style="position:absolute;left:1179.9px;top:801.8px;width:162.0px;height:29.8px;box-sizing:border-box;background:#f6f7fc;border:1px solid #e0e1f0;border-radius:5px;"></div>
<svg style="position:absolute;left:1186px;top:810px" width="15" height="15" viewBox="0 0 15 15"><circle cx="7" cy="7" r="6.2" fill="none" stroke="#1d1e5b" stroke-width="1.5"/><circle cx="7" cy="5.3" r="2.1" fill="none" stroke="#1d1e5b" stroke-width="1.4"/><path d="M2.8 11.3 Q7 7.6 11.2 11.3" fill="none" stroke="#1d1e5b" stroke-width="1.4"/></svg>
<div class="t" id="t68" style="left:1206.30px;top:807.9px;font-size:16px;font-weight:700;color:#1d1e5b;letter-spacing:-0.332px;margin-top:-1px;">roy.trenneman</div>
<svg style="position:absolute;left:1316.0px;top:806.1px" width="21" height="21" viewBox="0 0 21 21"><circle cx="10.85" cy="10.9" r="9.8" fill="none" stroke="#b4b3ea" stroke-width="2.0"/><path d="M10.85 1.10 A9.8 9.8 0 1 1 1.13 9.67" fill="none" stroke="#d90f2b" stroke-width="2.4"/></svg>
<div class="t" id="sc2" style="left:1321.20px;top:812.2px;font-size:11px;font-weight:700;color:#1d1e5b;letter-spacing:-0.350px;">77</div>
<div class="t" id="t70" style="left:1410.30px;top:810.7px;font-size:16px;font-weight:400;color:#262962;letter-spacing:0.100px;">NtLmSsp</div>
<div class="t" id="t71" style="left:167.00px;top:854.7px;font-size:16px;font-weight:400;color:#262962;letter-spacing:0.500px;">11/06/2024 08:00:20</div>
<div style="position:absolute;left:397.3px;top:849.3px;width:57.6px;height:25.9px;background:#fdeadf;border-radius:13px;"></div>
<div class="t" id="t72" style="left:410.20px;top:854.8px;font-size:14px;font-weight:700;color:#9a4912;letter-spacing:-0.068px;">2124</div>
<div style="position:absolute;left:489.9px;top:845.8px;width:149.1px;height:29.8px;box-sizing:border-box;background:#f6f7fc;border:1px solid #e0e1f0;border-radius:5px;"></div>
<svg style="position:absolute;left:0px;top:0px" width="1732" height="1005" viewBox="0 0 1732 1005"><g transform="translate(0 132)"><path d="M496.2 733 V724.2 a0.7 0.7 0 0 1 0.7 -0.7 H509.6" fill="none" stroke="#1d1e5b" stroke-width="1.6" stroke-linecap="round"/><path d="M495.2 733.4 H503.2" stroke="#1d1e5b" stroke-width="2.0" stroke-linecap="round"/><rect x="506.5" y="726.8" width="4.0" height="6.6" rx="0.5" fill="#f6f7fc" stroke="#1d1e5b" stroke-width="1.6"/></g></svg>
<div class="t" id="t73" style="left:516.10px;top:852.9px;font-size:16px;font-weight:700;color:#1d1e5b;letter-spacing:-0.180px;margin-top:-1px;">SRV-RDP-09</div>
<svg style="position:absolute;left:613.9px;top:850.1px" width="21" height="21" viewBox="0 0 21 21"><circle cx="10.35" cy="10.35" r="9.45" fill="none" stroke="#aaa9e7" stroke-width="1.8"/></svg>
<div class="t" id="z3_0" style="left:620.60px;top:857.4px;font-size:10px;font-weight:700;color:#1d1e5b;letter-spacing:0.000px;transform:scaleX(1.25);transform-origin:0 0;">0</div>
<div style="position:absolute;left:720.2px;top:845.8px;width:149.1px;height:29.8px;box-sizing:border-box;background:#f6f7fc;border:1px solid #e0e1f0;border-radius:5px;"></div>
<svg style="position:absolute;left:0px;top:0px" width="1732" height="1005" viewBox="0 0 1732 1005"><g transform="translate(230.29999999999995 132)"><path d="M496.2 733 V724.2 a0.7 0.7 0 0 1 0.7 -0.7 H509.6" fill="none" stroke="#1d1e5b" stroke-width="1.6" stroke-linecap="round"/><path d="M495.2 733.4 H503.2" stroke="#1d1e5b" stroke-width="2.0" stroke-linecap="round"/><rect x="506.5" y="726.8" width="4.0" height="6.6" rx="0.5" fill="#f6f7fc" stroke="#1d1e5b" stroke-width="1.6"/></g></svg>
<div class="t" id="t75" style="left:746.20px;top:852.9px;font-size:16px;font-weight:700;color:#1d1e5b;letter-spacing:-0.180px;margin-top:-1px;">SRV-RDP-09</div>
<svg style="position:absolute;left:844.2px;top:850.1px" width="21" height="21" viewBox="0 0 21 21"><circle cx="10.35" cy="10.35" r="9.45" fill="none" stroke="#aaa9e7" stroke-width="1.8"/></svg>
<div class="t" id="z3_230" style="left:850.90px;top:857.4px;font-size:10px;font-weight:700;color:#1d1e5b;letter-spacing:0.000px;transform:scaleX(1.25);transform-origin:0 0;">0</div>
<div class="t" id="t77" style="left:949.20px;top:854.7px;font-size:16px;font-weight:400;color:#262962;letter-spacing:0.800px;">S-1-0-0</div>
<div style="position:absolute;left:1179.9px;top:845.8px;width:191.9px;height:29.8px;box-sizing:border-box;background:#f6f7fc;border:1px solid #e0e1f0;border-radius:5px;"></div>
<svg style="position:absolute;left:1186px;top:854px" width="15" height="15" viewBox="0 0 15 15"><circle cx="7" cy="7" r="6.2" fill="none" stroke="#1d1e5b" stroke-width="1.5"/><circle cx="7" cy="5.3" r="2.1" fill="none" stroke="#1d1e5b" stroke-width="1.4"/><path d="M2.8 11.3 Q7 7.6 11.2 11.3" fill="none" stroke="#1d1e5b" stroke-width="1.4"/></svg>
<div class="t" id="t78" style="left:1207.30px;top:852.9px;font-size:16px;font-weight:700;color:#1d1e5b;letter-spacing:-0.559px;margin-top:-1px;">denholm.reynholm</div>
<svg style="position:absolute;left:1345.8999999999999px;top:850.1px" width="21" height="21" viewBox="0 0 21 21"><circle cx="10.35" cy="10.35" r="9.45" fill="none" stroke="#aaa9e7" stroke-width="1.8"/></svg>
<div class="t" id="sc3" style="left:1352.70px;top:857.4px;font-size:10px;font-weight:700;color:#1d1e5b;letter-spacing:0.000px;transform:scaleX(1.25);transform-origin:0 0;">0</div>
<div class="t" id="t80" style="left:1410.30px;top:854.7px;font-size:16px;font-weight:400;color:#262962;letter-spacing:0.100px;">NtLmSsp</div>
<div class="t" id="t81" style="left:167.00px;top:898.7px;font-size:16px;font-weight:400;color:#262962;letter-spacing:0.500px;">11/06/2024 08:00:19</div>
<div style="position:absolute;left:397.3px;top:893.3px;width:59.6px;height:25.9px;background:#fdeadf;border-radius:13px;"></div>
<div class="t" id="t82" style="left:410.20px;top:898.8px;font-size:14px;font-weight:700;color:#9a4912;letter-spacing:0.599px;">2245</div>
<div style="position:absolute;left:489.9px;top:889.8px;width:149.1px;height:29.8px;box-sizing:border-box;background:#f6f7fc;border:1px solid #e0e1f0;border-radius:5px;"></div>
<svg style="position:absolute;left:0px;top:0px" width="1732" height="1005" viewBox="0 0 1732 1005"><g transform="translate(0 176)"><path d="M496.2 733 V724.2 a0.7 0.7 0 0 1 0.7 -0.7 H509.6" fill="none" stroke="#1d1e5b" stroke-width="1.6" stroke-linecap="round"/><path d="M495.2 733.4 H503.2" stroke="#1d1e5b" stroke-width="2.0" stroke-linecap="round"/><rect x="506.5" y="726.8" width="4.0" height="6.6" rx="0.5" fill="#f6f7fc" stroke="#1d1e5b" stroke-width="1.6"/></g></svg>
<div class="t" id="t83" style="left:516.10px;top:896.9px;font-size:16px;font-weight:700;color:#1d1e5b;letter-spacing:-0.180px;margin-top:-1px;">SRV-RDP-09</div>
<svg style="position:absolute;left:613.9px;top:894.1px" width="21" height="21" viewBox="0 0 21 21"><circle cx="10.35" cy="10.35" r="9.45" fill="none" stroke="#aaa9e7" stroke-width="1.8"/></svg>
<div class="t" id="z4_0" style="left:620.60px;top:901.4px;font-size:10px;font-weight:700;color:#1d1e5b;letter-spacing:0.000px;transform:scaleX(1.25);transform-origin:0 0;">0</div>
<div style="position:absolute;left:720.2px;top:889.8px;width:149.1px;height:29.8px;box-sizing:border-box;background:#f6f7fc;border:1px solid #e0e1f0;border-radius:5px;"></div>
<svg style="position:absolute;left:0px;top:0px" width="1732" height="1005" viewBox="0 0 1732 1005"><g transform="translate(230.29999999999995 176)"><path d="M496.2 733 V724.2 a0.7 0.7 0 0 1 0.7 -0.7 H509.6" fill="none" stroke="#1d1e5b" stroke-width="1.6" stroke-linecap="round"/><path d="M495.2 733.4 H503.2" stroke="#1d1e5b" stroke-width="2.0" stroke-linecap="round"/><rect x="506.5" y="726.8" width="4.0" height="6.6" rx="0.5" fill="#f6f7fc" stroke="#1d1e5b" stroke-width="1.6"/></g></svg>
<div class="t" id="t85" style="left:746.20px;top:896.9px;font-size:16px;font-weight:700;color:#1d1e5b;letter-spacing:-0.180px;margin-top:-1px;">SRV-RDP-09</div>
<svg style="position:absolute;left:844.2px;top:894.1px" width="21" height="21" viewBox="0 0 21 21"><circle cx="10.35" cy="10.35" r="9.45" fill="none" stroke="#aaa9e7" stroke-width="1.8"/></svg>
<div class="t" id="z4_230" style="left:850.90px;top:901.4px;font-size:10px;font-weight:700;color:#1d1e5b;letter-spacing:0.000px;transform:scaleX(1.25);transform-origin:0 0;">0</div>
<div class="t" id="t87" style="left:949.20px;top:898.7px;font-size:16px;font-weight:400;color:#262962;letter-spacing:0.800px;">S-1-0-0</div>
<div style="position:absolute;left:1179.9px;top:889.8px;width:158.7px;height:29.8px;box-sizing:border-box;background:#f6f7fc;border:1px solid #e0e1f0;border-radius:5px;"></div>
<svg style="position:absolute;left:1186px;top:898px" width="15" height="15" viewBox="0 0 15 15"><circle cx="7" cy="7" r="6.2" fill="none" stroke="#1d1e5b" stroke-width="1.5"/><circle cx="7" cy="5.3" r="2.1" fill="none" stroke="#1d1e5b" stroke-width="1.4"/><path d="M2.8 11.3 Q7 7.6 11.2 11.3" fill="none" stroke="#1d1e5b" stroke-width="1.4"/></svg>
<div class="t" id="t88" style="left:1206.30px;top:896.9px;font-size:16px;font-weight:700;color:#1d1e5b;letter-spacing:-0.309px;margin-top:-1px;">Maurice Moss</div>
<svg style="position:absolute;left:1312.6999999999998px;top:894.1px" width="21" height="21" viewBox="0 0 21 21"><circle cx="10.85" cy="10.9" r="9.8" fill="none" stroke="#b4b3ea" stroke-width="2.0"/><path d="M10.85 1.10 A9.8 9.8 0 1 1 1.05 10.90" fill="none" stroke="#d90f2b" stroke-width="2.4"/></svg>
<div class="t" id="sc4" style="left:1317.90px;top:900.2px;font-size:11px;font-weight:700;color:#1d1e5b;letter-spacing:-0.350px;">75</div>
<div class="t" id="t90" style="left:1410.30px;top:898.7px;font-size:16px;font-weight:400;color:#262962;letter-spacing:0.100px;">NtLmSsp</div>
<svg style="position:absolute;left:0px;top:0px" width="1732" height="1005" viewBox="0 0 1732 1005"><path d="M108.8 76.1 H122.8 M108.8 80.1 H122.8 M108.8 84.1 H122.8" fill="none" stroke="#5b5e8d" stroke-width="1.6" stroke-linecap="round" stroke-linejoin="round" /><circle cx="115.7" cy="117.4" r="11.1" fill="#fff" stroke="#0f0e3d" stroke-width="2.35"/><rect x="109.0" y="112.8" width="2.5" height="9.1" rx="0.4" fill="#0f0e3d"/><circle cx="118.2" cy="117.2" r="4.35" fill="none" stroke="#0f0e3d" stroke-width="2.2"/><path d="M113.3 142.9 a4.6 4.6 0 1 1 0 9.2 a4.6 4.6 0 1 1 0 -9.2 Z M116.7 150.9 L121.5 155.3" fill="none" stroke="#5b5e8d" stroke-width="1.7" stroke-linecap="round" stroke-linejoin="round" /><path d="M110.2 184.2 H121.2 M111.6 184.2 V178.6 a4.1 4.1 0 0 1 8.2 0 V184.2 M115.7 172.2 V174.3" fill="none" stroke="#5b5e8d" stroke-width="1.6" stroke-linecap="round" stroke-linejoin="round" /><path d="M114 186.3 h3.4 a1.7 1.5 0 0 1 -3.4 0 Z" fill="#5b5e8d"/><path d="M109 203.1 H120.8 a1 1 0 0 1 1 1 V215.2 a1 1 0 0 1 -1 1 H109 a1 1 0 0 1 -1 -1 V204.1 a1 1 0 0 1 1 -1 Z M114.9 203.1 V216.2 M114.9 209.5 H121.8" fill="none" stroke="#5b5e8d" stroke-width="1.6" stroke-linecap="round" stroke-linejoin="round" /><path d="M109 230.8 H120.8 a1 1 0 0 1 1 1 V242.9 a1 1 0 0 1 -1 1 H109 a1 1 0 0 1 -1 -1 V231.8 a1 1 0 0 1 1 -1 Z M108.3 240.6 L112.3 236.3 L115.6 239.3 L121.5 233.6" fill="none" stroke="#5b5e8d" stroke-width="1.6" stroke-linecap="round" stroke-linejoin="round" /><path d="M111.7 268.5 L115.2 272.09999999999997 L118.7 268.5" fill="none" stroke="#1d1e5b" stroke-width="1.8" stroke-linecap="round" stroke-linejoin="round" /><path d="M111.7 464.70000000000005 L115.2 468.3 L118.7 464.70000000000005" fill="none" stroke="#1d1e5b" stroke-width="1.8" stroke-linecap="round" stroke-linejoin="round" /><path d="M111.7 632.7 L115.2 636.3000000000001 L118.7 632.7" fill="none" stroke="#1d1e5b" stroke-width="1.8" stroke-linecap="round" stroke-linejoin="round" /><path d="M121.4 300.2 V299.2 a1 1 0 0 0 -1 -1 H109.3 a1 1 0 0 0 -1 1 V312.6 a1 1 0 0 0 1 1 H121.4 M111.3 302.4 H121.8 M111.3 305.9 H114.2 M116 305.9 H121.8 M111.3 309.4 H113.2 M115 309.4 H117.3 M119.2 309.4 H121.8" fill="none" stroke="#5b5e8d" stroke-width="1.5" stroke-linecap="round" stroke-linejoin="round" /><path d="M114.7 328.6 L122.1 340.7 H107.3 Z" fill="none" stroke="#5b5e8d" stroke-width="1.6" stroke-linecap="round" stroke-linejoin="round" /><path d="M114.7 332.8 V335.9" fill="none" stroke="#5b5e8d" stroke-width="1.5" stroke-linecap="round" stroke-linejoin="round" /><circle cx="114.7" cy="338.2" r="0.9" fill="#5b5e8d"/><path d="M115 368.7 H109 a1 1 0 0 1 -1 -1 V357 a1 1 0 0 1 1 -1 H112.8 L114.6 358 H120.9 a1 1 0 0 1 1 1 V359.5" fill="none" stroke="#5b5e8d" stroke-width="1.5" stroke-linecap="round" stroke-linejoin="round" /><circle cx="119.1" cy="365.5" r="3.7" fill="#f7f8fc" stroke="#5b5e8d" stroke-width="1.5"/><path d="M119.1 363.6 V365.9" fill="none" stroke="#5b5e8d" stroke-width="1.3" stroke-linecap="round" stroke-linejoin="round" /><circle cx="119.1" cy="367.6" r="0.7" fill="#5b5e8d"/><path d="M107.6 388.9 L111.8 384.9 L114.8 387.4 L120.3 382.9" fill="none" stroke="#5b5e8d" stroke-width="1.5" stroke-linecap="round" stroke-linejoin="round" /><path d="M108.2 394.8 V395.3 M111.2 391.5 V395.3 M114.3 391.8 V395.3 M117.4 389.5 V395.3 M120.4 387.5 V395.3" fill="none" stroke="#5b5e8d" stroke-width="1.5" stroke-linecap="round" stroke-linejoin="round" /><path d="M106.4 412.2 V410.2 a1.3 1.3 0 0 1 1.3 -1.3 H109.7 M119.7 408.9 H121.7 a1.3 1.3 0 0 1 1.3 1.3 V412.2 M123 423.4 V425.4 a1.3 1.3 0 0 1 -1.3 1.3 H119.7 M109.7 426.7 H107.7 a1.3 1.3 0 0 1 -1.3 -1.3 V423.4" fill="none" stroke="#5b5e8d" stroke-width="1.5" stroke-linecap="round" stroke-linejoin="round" /><path d="M114.7 413.3 L118.9 415.6 V420.2 L114.7 422.5 L110.5 420.2 V415.6 Z M110.5 415.6 L114.7 417.9 L118.9 415.6 M114.7 417.9 V422.5" fill="none" stroke="#5b5e8d" stroke-width="1.4" stroke-linecap="round" stroke-linejoin="round" /><path d="M114.9 493.3 L121.6 495.9 V501.3 C121.6 505.7 118.8 508.9 114.9 510.2 C111 508.9 108.2 505.7 108.2 501.3 V495.9 Z" fill="none" stroke="#5b5e8d" stroke-width="1.6" stroke-linecap="round" stroke-linejoin="round" /><path d="M111.8 501.8 L114 503.9 L118.2 499.6" fill="none" stroke="#5b5e8d" stroke-width="1.6" stroke-linecap="round" stroke-linejoin="round" /><path d="M112.0 522.3 V525.6 M117.3 522.3 V525.6" fill="none" stroke="#5b5e8d" stroke-width="1.7" stroke-linecap="round" stroke-linejoin="round" /><path d="M109.8 526.0 H119.6 V530.6 L116.4 534.7 V537.0 H113.0 V534.7 L109.8 530.6 Z" fill="none" stroke="#5b5e8d" stroke-width="1.6" stroke-linecap="round" stroke-linejoin="round" /><rect x="106.3" y="550.7" width="7.6" height="14.3" rx="1" fill="#5b5e8d"/><rect x="107.9" y="552.4" width="1.5" height="1.5" fill="#f7f8fc"/><rect x="107.9" y="555.3" width="1.5" height="1.5" fill="#f7f8fc"/><rect x="107.9" y="558.2" width="1.5" height="1.5" fill="#f7f8fc"/><rect x="107.9" y="561.1" width="1.5" height="1.5" fill="#f7f8fc"/><rect x="110.9" y="552.4" width="1.5" height="1.5" fill="#f7f8fc"/><rect x="110.9" y="555.3" width="1.5" height="1.5" fill="#f7f8fc"/><rect x="110.9" y="558.2" width="1.5" height="1.5" fill="#f7f8fc"/><rect x="110.9" y="561.1" width="1.5" height="1.5" fill="#f7f8fc"/><path d="M113.6 555.0 H120.7 a0.8 0.8 0 0 1 0.8 0.8 V563.4 a0.8 0.8 0 0 1 -0.8 0.8 H113.6" fill="none" stroke="#5b5e8d" stroke-width="1.5" stroke-linecap="round" stroke-linejoin="round" /><rect x="115.4" y="557.4" width="1.5" height="1.5" fill="#5b5e8d"/><rect x="115.4" y="560.3" width="1.5" height="1.5" fill="#5b5e8d"/><rect x="118.3" y="557.4" width="1.5" height="1.5" fill="#5b5e8d"/><rect x="118.3" y="560.3" width="1.5" height="1.5" fill="#5b5e8d"/><circle cx="114.6" cy="585.6" r="7.4" fill="none" stroke="#5b5e8d" stroke-width="1.6"/><path d="M112.7 582.9 L117.6 585.7 L112.7 588.5 Z" fill="#5b5e8d" stroke="#5b5e8d" stroke-width="1" stroke-linejoin="round"/><path d="M106.5 661.9 H109.6 V678.1 H106.5 Z M109.6 661.9 H113.2 V678.1 H109.6 Z M114.7 664.1 L117.7 662.9 L123.3 676.9 L120.3 678.1 Z" fill="none" stroke="#5b5e8d" stroke-width="1.5" stroke-linecap="round" stroke-linejoin="round" /><path d="M108.05 665 V667.5 M111.4 665 V667.5" fill="none" stroke="#5b5e8d" stroke-width="1.0" stroke-linecap="round" stroke-linejoin="round" /><circle cx="109.3" cy="702.6" r="1.7" fill="#5b5e8d"/><path d="M108.2 696.5 a6.6 6.6 0 0 1 6.6 6.6 M108.2 691.9 a11.3 11.3 0 0 1 11.3 11.3" fill="none" stroke="#5b5e8d" stroke-width="1.8" stroke-linecap="round" stroke-linejoin="round" /><path d="M109.5 718.9 H119.9 a0.8 0.8 0 0 1 0.8 0.8 V732.1 a0.8 0.8 0 0 1 -0.8 0.8 H109.5 a0.8 0.8 0 0 1 -0.8 -0.8 V719.7 a0.8 0.8 0 0 1 0.8 -0.8 Z M111.9 726.2 H117.5 M111.9 729.8 H117.5" fill="none" stroke="#5b5e8d" stroke-width="1.5" stroke-linecap="round" stroke-linejoin="round" /><path d="M114.6 722.5 V719.9 A2.6 2.6 0 1 1 112.0 722.5 Z" fill="#5b5e8d"/><path d="M113.4 760.4 L109.3 756.3 A5.8 5.8 0 0 1 117.5 748.1 L121.6 752.2" fill="none" stroke="#5b5e8d" stroke-width="1.8" stroke-linecap="round" stroke-linejoin="round" /><path d="M115.6 758.2 L111.9 754.5 A2.9 2.9 0 0 1 116.0 750.4 L119.7 754.1" fill="none" stroke="#5b5e8d" stroke-width="1.8" stroke-linecap="round" stroke-linejoin="round" /><path d="M114.6 753.4 L118.0 756.8" fill="none" stroke="#5b5e8d" stroke-width="1.8" stroke-linecap="round" stroke-linejoin="round" /><circle cx="119.6" cy="758.8" r="1.0" fill="#5b5e8d"/><circle cx="114.7" cy="782.3" r="2.9" fill="none" stroke="#5b5e8d" stroke-width="1.5"/><circle cx="107.4" cy="775.6" r="1.6" fill="none" stroke="#5b5e8d" stroke-width="1.4"/><circle cx="122.0" cy="775.6" r="1.6" fill="none" stroke="#5b5e8d" stroke-width="1.4"/><circle cx="107.4" cy="789.3" r="1.6" fill="none" stroke="#5b5e8d" stroke-width="1.4"/><circle cx="122.0" cy="789.3" r="1.6" fill="none" stroke="#5b5e8d" stroke-width="1.4"/><path d="M108.6 776.8 L112.6 780.3 M120.8 776.8 L116.8 780.3 M108.6 788.1 L112.6 784.4 M120.8 788.1 L116.8 784.4 M114.7 785.2 V789.3" fill="none" stroke="#5b5e8d" stroke-width="1.4" stroke-linecap="round" stroke-linejoin="round" /><circle cx="114.7" cy="790.1" r="1.0" fill="#5b5e8d"/><rect x="107" y="816" width="17.5" height="1" fill="#e1e2ec"/><circle cx="115.5" cy="838.9" r="9.8" fill="#d3e6fc"/><path d="M108.8 866.7 A6.8 6.8 0 1 1 113.1 873.1" fill="none" stroke="#5b5e8d" stroke-width="1.7" stroke-linecap="round" stroke-linejoin="round" /><path d="M106.1 867.3 L112.7 867.3 L109.4 871.1 Z" fill="#5b5e8d" stroke="#5b5e8d" stroke-width="0.9" stroke-linejoin="round"/><path d="M115.6 863.3 V867.4" fill="none" stroke="#5b5e8d" stroke-width="1.7" stroke-linecap="round" stroke-linejoin="round" /><circle cx="115.6" cy="870.2" r="0.95" fill="#5b5e8d"/><circle cx="115.4" cy="894.8" r="7.6" fill="none" stroke="#5b5e8d" stroke-width="1.6"/><path d="M115.4 893.3 V898.5" fill="none" stroke="#5b5e8d" stroke-width="1.8" stroke-linecap="round" stroke-linejoin="round" /><circle cx="115.4" cy="890.9" r="1.05" fill="#5b5e8d"/></svg>
<div class="t" id="t91" style="left:109.10px;top:832.8px;font-size:9.5px;font-weight:700;color:#1b6fd1;letter-spacing:-1.800px;">AM</div>
<svg style="position:absolute;left:0px;top:0px" width="1732" height="1005" viewBox="0 0 1732 1005"><path d="M328.4 133.6 V123.9 a0.7 0.7 0 0 1 0.7 -0.7 H343.6" fill="none" stroke="#1d1e5b" stroke-width="1.6" stroke-linecap="round"/><path d="M327.2 134.1 H336.4" fill="none" stroke="#1d1e5b" stroke-width="2.0" stroke-linecap="round"/><rect x="340" y="126.9" width="4.5" height="7.3" rx="0.5" fill="#fff" stroke="#1d1e5b" stroke-width="1.6"/><circle cx="579" cy="175.2" r="2.6" fill="none" stroke="#1b6fd1" stroke-width="1.4"/><path d="M574.3 182.6 H583.7 V181.6 C583.7 179.9 581.6 178.9 579 178.9 C576.4 178.9 574.3 179.9 574.3 181.6 Z" fill="none" stroke="#1b6fd1" stroke-width="1.4" stroke-linejoin="round"/><circle cx="782" cy="178.9" r="11.1" fill="#fff" stroke="#0f0e3d" stroke-width="2.35"/><rect x="775.3" y="174.3" width="2.5" height="9.1" rx="0.4" fill="#0f0e3d"/><circle cx="784.5" cy="178.7" r="4.35" fill="none" stroke="#0f0e3d" stroke-width="2.2"/><path d="M404.3 301.2 a1.2 1.2 0 0 1 1.2 -1.2 H421.1 a1.2 1.2 0 0 1 1.2 1.2 V318.6 a1.2 1.2 0 0 1 -1.2 1.2 H405.5 a1.2 1.2 0 0 1 -1.2 -1.2 Z M406.6 305.6 V317.5 H420 V305.6 Z" fill="#1d1e5b" fill-rule="evenodd"/><rect x="407.6" y="297.9" width="2.1" height="3.5" fill="#1d1e5b"/><rect x="417" y="297.9" width="2.1" height="3.5" fill="#1d1e5b"/><rect x="408.3" y="309.7" width="4.2" height="4" fill="#1d1e5b"/></svg>
<div style="position:absolute;left:0;top:977px;width:1732px;height:28px;background:#000;"></div>
<svg style="position:absolute;left:0;top:0" width="1732" height="1005" shape-rendering="crispEdges"><defs><pattern id="nz" x="0" y="977" width="131" height="17" patternUnits="userSpaceOnUse"><rect x="0" y="0" width="2" height="1" fill="#6868b8"/><rect x="2" y="0" width="1" height="1" fill="#000088"/><rect x="3" y="0" width="1" height="1" fill="#6868b8"/><rect x="4" y="0" width="1" height="1" fill="#000088"/><rect x="5" y="0" width="2" height="1" fill="#6868b8"/><rect x="7" y="0" width="1" height="1" fill="#000088"/><rect x="8" y="0" width="1" height="1" fill="#6868b8"/><rect x="9" y="0" width="1" height="1" fill="#000088"/><rect x="10" y="0" width="2" height="1" fill="#6868b8"/><rect x="12" y="0" width="2" height="1" fill="#000088"/><rect x="14" y="0" width="2" height="1" fill="#6868b8"/><rect x="16" y="0" width="1" height="1" fill="#000088"/><rect x="17" y="0" width="1" height="1" fill="#7a7a6a"/><rect x="18" y="0" width="1" height="1" fill="#000088"/><rect x="19" y="0" width="1" height="1" fill="#6868b8"/><rect x="20" y="0" width="1" height="1" fill="#7a7a6a"/><rect x="21" y="0" width="1" height="1" fill="#6868b8"/><rect x="22" y="0" width="1" height="1" fill="#000088"/><rect x="23" y="0" width="4" height="1" fill="#6868b8"/><rect x="27" y="0" width="1" height="1" fill="#000088"/><rect x="28" y="0" width="1" height="1" fill="#6868b8"/><rect x="29" y="0" width="2" height="1" fill="#000088"/><rect x="31" y="0" width="1" height="1" fill="#6868b8"/><rect x="32" y="0" width="1" height="1" fill="#000088"/><rect x="33" y="0" width="3" height="1" fill="#6868b8"/><rect x="36" y="0" width="2" height="1" fill="#000088"/><rect x="38" y="0" width="1" height="1" fill="#6868b8"/><rect x="39" y="0" width="2" height="1" fill="#000088"/><rect x="41" y="0" width="1" height="1" fill="#6868b8"/><rect x="42" y="0" width="2" height="1" fill="#000088"/><rect x="44" y="0" width="1" height="1" fill="#6868b8"/><rect x="45" y="0" width="4" height="1" fill="#000088"/><rect x="49" y="0" width="1" height="1" fill="#6868b8"/><rect x="50" y="0" width="1" height="1" fill="#7a7a6a"/><rect x="51" y="0" width="1" height="1" fill="#6868b8"/><rect x="52" y="0" width="2" height="1" fill="#000088"/><rect x="54" y="0" width="1" height="1" fill="#6868b8"/><rect x="55" y="0" width="1" height="1" fill="#000088"/><rect x="56" y="0" width="1" height="1" fill="#6868b8"/><rect x="57" y="0" width="4" height="1" fill="#000088"/><rect x="61" y="0" width="1" height="1" fill="#6868b8"/><rect x="62" y="0" width="5" height="1" fill="#000088"/><rect x="67" y="0" width="1" height="1" fill="#7a7a6a"/><rect x="68" y="0" width="2" height="1" fill="#000088"/><rect x="70" y="0" width="1" height="1" fill="#6868b8"/><rect x="71" y="0" width="2" height="1" fill="#000088"/><rect x="73" y="0" width="1" height="1" fill="#7a7a6a"/><rect x="74" y="0" width="1" height="1" fill="#000088"/><rect x="75" y="0" width="2" height="1" fill="#6868b8"/><rect x="77" y="0" width="1" height="1" fill="#000088"/><rect x="78" y="0" width="1" height="1" fill="#6868b8"/><rect x="79" y="0" width="1" height="1" fill="#000088"/><rect x="80" y="0" width="3" height="1" fill="#6868b8"/><rect x="83" y="0" width="1" height="1" fill="#000088"/><rect x="84" y="0" width="3" height="1" fill="#6868b8"/><rect x="87" y="0" width="1" height="1" fill="#000088"/><rect x="88" y="0" width="1" height="1" fill="#6868b8"/><rect x="89" y="0" width="2" height="1" fill="#000088"/><rect x="91" y="0" width="1" height="1" fill="#0a0ae6"/><rect x="92" y="0" width="2" height="1" fill="#000088"/><rect x="94" y="0" width="1" height="1" fill="#6868b8"/><rect x="95" y="0" width="1" height="1" fill="#000088"/><rect x="96" y="0" width="1" height="1" fill="#6868b8"/><rect x="97" y="0" width="1" height="1" fill="#0a0ae6"/><rect x="98" y="0" width="1" height="1" fill="#7a7a6a"/><rect x="99" y="0" width="4" height="1" fill="#6868b8"/><rect x="103" y="0" width="2" height="1" fill="#000088"/><rect x="105" y="0" width="2" height="1" fill="#6868b8"/><rect x="107" y="0" width="1" height="1" fill="#000088"/><rect x="108" y="0" width="1" height="1" fill="#6868b8"/><rect x="109" y="0" width="1" height="1" fill="#000088"/><rect x="110" y="0" width="1" height="1" fill="#7a7a6a"/><rect x="111" y="0" width="4" height="1" fill="#000088"/><rect x="115" y="0" width="1" height="1" fill="#6868b8"/><rect x="116" y="0" width="1" height="1" fill="#0a0ae6"/><rect x="117" y="0" width="3" height="1" fill="#000088"/><rect x="120" y="0" width="3" height="1" fill="#6868b8"/><rect x="123" y="0" width="1" height="1" fill="#000088"/><rect x="124" y="0" width="7" height="1" fill="#6868b8"/><rect x="0" y="1" width="2" height="1" fill="#6868b8"/><rect x="2" y="1" width="1" height="1" fill="#000088"/><rect x="3" y="1" width="1" height="1" fill="#6868b8"/><rect x="4" y="1" width="1" height="1" fill="#0a0ae6"/><rect x="5" y="1" width="1" height="1" fill="#000088"/><rect x="6" y="1" width="2" height="1" fill="#6868b8"/><rect x="8" y="1" width="2" height="1" fill="#000088"/><rect x="10" y="1" width="1" height="1" fill="#6868b8"/><rect x="11" y="1" width="1" height="1" fill="#0a0ae6"/><rect x="13" y="1" width="2" height="1" fill="#000088"/><rect x="15" y="1" width="2" height="1" fill="#6868b8"/><rect x="17" y="1" width="1" height="1" fill="#000088"/><rect x="18" y="1" width="1" height="1" fill="#6868b8"/><rect x="19" y="1" width="1" height="1" fill="#0a0ae6"/><rect x="20" y="1" width="2" height="1" fill="#6868b8"/><rect x="22" y="1" width="1" height="1" fill="#7a7a6a"/><rect x="23" y="1" width="1" height="1" fill="#000088"/><rect x="24" y="1" width="1" height="1" fill="#6868b8"/><rect x="25" y="1" width="1" height="1" fill="#000088"/><rect x="26" y="1" width="1" height="1" fill="#6868b8"/><rect x="27" y="1" width="1" height="1" fill="#000088"/><rect x="28" y="1" width="1" height="1" fill="#7a7a6a"/><rect x="29" y="1" width="1" height="1" fill="#0a0ae6"/><rect x="30" y="1" width="1" height="1" fill="#000088"/><rect x="31" y="1" width="1" height="1" fill="#6868b8"/><rect x="32" y="1" width="1" height="1" fill="#000088"/><rect x="33" y="1" width="1" height="1" fill="#6868b8"/><rect x="34" y="1" width="4" height="1" fill="#000088"/><rect x="38" y="1" width="1" height="1" fill="#6868b8"/><rect x="39" y="1" width="1" height="1" fill="#000088"/><rect x="41" y="1" width="1" height="1" fill="#0a0ae6"/><rect x="42" y="1" width="3" height="1" fill="#000088"/><rect x="45" y="1" width="1" height="1" fill="#6868b8"/><rect x="46" y="1" width="2" height="1" fill="#000088"/><rect x="48" y="1" width="4" height="1" fill="#6868b8"/><rect x="52" y="1" width="1" height="1" fill="#000088"/><rect x="53" y="1" width="1" height="1" fill="#7a7a6a"/><rect x="54" y="1" width="1" height="1" fill="#000088"/><rect x="55" y="1" width="1" height="1" fill="#7a7a6a"/><rect x="57" y="1" width="1" height="1" fill="#7a7a6a"/><rect x="58" y="1" width="1" height="1" fill="#000088"/><rect x="59" y="1" width="4" height="1" fill="#6868b8"/><rect x="63" y="1" width="1" height="1" fill="#000088"/><rect x="64" y="1" width="1" height="1" fill="#7a7a6a"/><rect x="65" y="1" width="1" height="1" fill="#0a0ae6"/><rect x="66" y="1" width="3" height="1" fill="#000088"/><rect x="69" y="1" width="1" height="1" fill="#6868b8"/><rect x="70" y="1" width="1" height="1" fill="#000088"/><rect x="71" y="1" width="1" height="1" fill="#7a7a6a"/><rect x="72" y="1" width="3" height="1" fill="#000088"/><rect x="75" y="1" width="1" height="1" fill="#6868b8"/><rect x="76" y="1" width="3" height="1" fill="#000088"/><rect x="79" y="1" width="1" height="1" fill="#7a7a6a"/><rect x="80" y="1" width="2" height="1" fill="#000088"/><rect x="82" y="1" width="1" height="1" fill="#7a7a6a"/><rect x="83" y="1" width="1" height="1" fill="#000088"/><rect x="84" y="1" width="3" height="1" fill="#6868b8"/><rect x="87" y="1" width="1" height="1" fill="#7a7a6a"/><rect x="88" y="1" width="1" height="1" fill="#000088"/><rect x="89" y="1" width="1" height="1" fill="#6868b8"/><rect x="90" y="1" width="1" height="1" fill="#0a0ae6"/><rect x="92" y="1" width="3" height="1" fill="#000088"/><rect x="95" y="1" width="2" height="1" fill="#6868b8"/><rect x="97" y="1" width="1" height="1" fill="#7a7a6a"/><rect x="98" y="1" width="2" height="1" fill="#000088"/><rect x="100" y="1" width="1" height="1" fill="#7a7a6a"/><rect x="101" y="1" width="1" height="1" fill="#000088"/><rect x="102" y="1" width="2" height="1" fill="#0a0ae6"/><rect x="104" y="1" width="4" height="1" fill="#6868b8"/><rect x="108" y="1" width="1" height="1" fill="#000088"/><rect x="109" y="1" width="1" height="1" fill="#6868b8"/><rect x="110" y="1" width="1" height="1" fill="#000088"/><rect x="111" y="1" width="1" height="1" fill="#6868b8"/><rect x="112" y="1" width="1" height="1" fill="#7a7a6a"/><rect x="113" y="1" width="3" height="1" fill="#000088"/><rect x="116" y="1" width="1" height="1" fill="#7a7a6a"/><rect x="117" y="1" width="1" height="1" fill="#000088"/><rect x="118" y="1" width="1" height="1" fill="#7a7a6a"/><rect x="119" y="1" width="3" height="1" fill="#000088"/><rect x="122" y="1" width="1" height="1" fill="#6868b8"/><rect x="123" y="1" width="1" height="1" fill="#000088"/><rect x="124" y="1" width="2" height="1" fill="#6868b8"/><rect x="126" y="1" width="1" height="1" fill="#000088"/><rect x="127" y="1" width="1" height="1" fill="#6868b8"/><rect x="128" y="1" width="3" height="1" fill="#000088"/><rect x="0" y="2" width="3" height="1" fill="#000088"/><rect x="3" y="2" width="1" height="1" fill="#7a7a6a"/><rect x="4" y="2" width="1" height="1" fill="#6868b8"/><rect x="5" y="2" width="3" height="1" fill="#000088"/><rect x="8" y="2" width="1" height="1" fill="#7a7a6a"/><rect x="9" y="2" width="2" height="1" fill="#000088"/><rect x="11" y="2" width="1" height="1" fill="#0a0ae6"/><rect x="12" y="2" width="1" height="1" fill="#7a7a6a"/><rect x="13" y="2" width="4" height="1" fill="#000088"/><rect x="17" y="2" width="1" height="1" fill="#0a0ae6"/><rect x="18" y="2" width="3" height="1" fill="#000088"/><rect x="22" y="2" width="1" height="1" fill="#0a0ae6"/><rect x="23" y="2" width="1" height="1" fill="#7a7a6a"/><rect x="25" y="2" width="2" height="1" fill="#000088"/><rect x="28" y="2" width="1" height="1" fill="#7a7a6a"/><rect x="29" y="2" width="3" height="1" fill="#000088"/><rect x="32" y="2" width="1" height="1" fill="#6868b8"/><rect x="33" y="2" width="1" height="1" fill="#000088"/><rect x="34" y="2" width="1" height="1" fill="#6868b8"/><rect x="35" y="2" width="1" height="1" fill="#000088"/><rect x="36" y="2" width="2" height="1" fill="#7a7a6a"/><rect x="38" y="2" width="1" height="1" fill="#000088"/><rect x="39" y="2" width="1" height="1" fill="#0a0ae6"/><rect x="40" y="2" width="2" height="1" fill="#000088"/><rect x="42" y="2" width="1" height="1" fill="#7a7a6a"/><rect x="44" y="2" width="1" height="1" fill="#000088"/><rect x="46" y="2" width="2" height="1" fill="#000088"/><rect x="49" y="2" width="1" height="1" fill="#7a7a6a"/><rect x="50" y="2" width="6" height="1" fill="#000088"/><rect x="56" y="2" width="1" height="1" fill="#0a0ae6"/><rect x="57" y="2" width="1" height="1" fill="#6868b8"/><rect x="58" y="2" width="2" height="1" fill="#000088"/><rect x="60" y="2" width="1" height="1" fill="#6868b8"/><rect x="61" y="2" width="3" height="1" fill="#000088"/><rect x="64" y="2" width="1" height="1" fill="#6868b8"/><rect x="66" y="2" width="1" height="1" fill="#7a7a6a"/><rect x="68" y="2" width="1" height="1" fill="#6868b8"/><rect x="69" y="2" width="1" height="1" fill="#000088"/><rect x="70" y="2" width="1" height="1" fill="#6868b8"/><rect x="71" y="2" width="1" height="1" fill="#7a7a6a"/><rect x="72" y="2" width="3" height="1" fill="#000088"/><rect x="75" y="2" width="2" height="1" fill="#7a7a6a"/><rect x="77" y="2" width="2" height="1" fill="#000088"/><rect x="79" y="2" width="1" height="1" fill="#7a7a6a"/><rect x="80" y="2" width="1" height="1" fill="#000088"/><rect x="81" y="2" width="1" height="1" fill="#0a0ae6"/><rect x="82" y="2" width="2" height="1" fill="#6868b8"/><rect x="84" y="2" width="1" height="1" fill="#0a0ae6"/><rect x="85" y="2" width="1" height="1" fill="#000088"/><rect x="86" y="2" width="1" height="1" fill="#6868b8"/><rect x="88" y="2" width="1" height="1" fill="#000088"/><rect x="89" y="2" width="1" height="1" fill="#7a7a6a"/><rect x="90" y="2" width="1" height="1" fill="#6868b8"/><rect x="91" y="2" width="1" height="1" fill="#7a7a6a"/><rect x="92" y="2" width="1" height="1" fill="#6868b8"/><rect x="93" y="2" width="1" height="1" fill="#7a7a6a"/><rect x="94" y="2" width="3" height="1" fill="#000088"/><rect x="98" y="2" width="4" height="1" fill="#000088"/><rect x="102" y="2" width="1" height="1" fill="#6868b8"/><rect x="103" y="2" width="1" height="1" fill="#000088"/><rect x="104" y="2" width="1" height="1" fill="#6868b8"/><rect x="105" y="2" width="3" height="1" fill="#000088"/><rect x="108" y="2" width="1" height="1" fill="#0a0ae6"/><rect x="109" y="2" width="4" height="1" fill="#000088"/><rect x="113" y="2" width="1" height="1" fill="#6868b8"/><rect x="114" y="2" width="1" height="1" fill="#000088"/><rect x="115" y="2" width="1" height="1" fill="#6868b8"/><rect x="116" y="2" width="1" height="1" fill="#0a0ae6"/><rect x="117" y="2" width="3" height="1" fill="#000088"/><rect x="121" y="2" width="1" height="1" fill="#6868b8"/><rect x="122" y="2" width="1" height="1" fill="#7a7a6a"/><rect x="123" y="2" width="2" height="1" fill="#000088"/><rect x="125" y="2" width="1" height="1" fill="#7a7a6a"/><rect x="126" y="2" width="2" height="1" fill="#000088"/><rect x="128" y="2" width="1" height="1" fill="#0a0ae6"/><rect x="130" y="2" width="1" height="1" fill="#000088"/><rect x="0" y="3" width="1" height="1" fill="#7a7a6a"/><rect x="1" y="3" width="2" height="1" fill="#0a0ae6"/><rect x="3" y="3" width="2" height="1" fill="#000088"/><rect x="5" y="3" width="1" height="1" fill="#6868b8"/><rect x="6" y="3" width="2" height="1" fill="#000088"/><rect x="8" y="3" width="1" height="1" fill="#7a7a6a"/><rect x="9" y="3" width="3" height="1" fill="#000088"/><rect x="12" y="3" width="2" height="1" fill="#7a7a6a"/><rect x="14" y="3" width="1" height="1" fill="#0a0ae6"/><rect x="15" y="3" width="7" height="1" fill="#000088"/><rect x="24" y="3" width="2" height="1" fill="#000088"/><rect x="27" y="3" width="2" height="1" fill="#000088"/><rect x="29" y="3" width="1" height="1" fill="#6868b8"/><rect x="30" y="3" width="5" height="1" fill="#000088"/><rect x="35" y="3" width="1" height="1" fill="#6868b8"/><rect x="36" y="3" width="3" height="1" fill="#000088"/><rect x="39" y="3" width="2" height="1" fill="#6868b8"/><rect x="41" y="3" width="2" height="1" fill="#000088"/><rect x="43" y="3" width="1" height="1" fill="#0a0ae6"/><rect x="44" y="3" width="1" height="1" fill="#000088"/><rect x="45" y="3" width="1" height="1" fill="#7a7a6a"/><rect x="46" y="3" width="2" height="1" fill="#0a0ae6"/><rect x="48" y="3" width="1" height="1" fill="#7a7a6a"/><rect x="49" y="3" width="2" height="1" fill="#000088"/><rect x="51" y="3" width="1" height="1" fill="#f0e020"/><rect x="52" y="3" width="1" height="1" fill="#000088"/><rect x="53" y="3" width="2" height="1" fill="#0a0ae6"/><rect x="55" y="3" width="1" height="1" fill="#6868b8"/><rect x="56" y="3" width="1" height="1" fill="#7a7a6a"/><rect x="58" y="3" width="1" height="1" fill="#0a0ae6"/><rect x="59" y="3" width="2" height="1" fill="#7a7a6a"/><rect x="61" y="3" width="3" height="1" fill="#000088"/><rect x="64" y="3" width="3" height="1" fill="#7a7a6a"/><rect x="67" y="3" width="1" height="1" fill="#0a0ae6"/><rect x="69" y="3" width="2" height="1" fill="#0a0ae6"/><rect x="71" y="3" width="1" height="1" fill="#000088"/><rect x="72" y="3" width="1" height="1" fill="#6868b8"/><rect x="73" y="3" width="3" height="1" fill="#000088"/><rect x="76" y="3" width="1" height="1" fill="#7a7a6a"/><rect x="77" y="3" width="1" height="1" fill="#000088"/><rect x="78" y="3" width="3" height="1" fill="#0a0ae6"/><rect x="81" y="3" width="1" height="1" fill="#000088"/><rect x="82" y="3" width="1" height="1" fill="#6868b8"/><rect x="83" y="3" width="2" height="1" fill="#7a7a6a"/><rect x="85" y="3" width="2" height="1" fill="#000088"/><rect x="87" y="3" width="1" height="1" fill="#0a0ae6"/><rect x="88" y="3" width="1" height="1" fill="#000088"/><rect x="89" y="3" width="1" height="1" fill="#7a7a6a"/><rect x="90" y="3" width="3" height="1" fill="#000088"/><rect x="93" y="3" width="1" height="1" fill="#0a0ae6"/><rect x="94" y="3" width="1" height="1" fill="#000088"/><rect x="95" y="3" width="1" height="1" fill="#7a7a6a"/><rect x="97" y="3" width="3" height="1" fill="#000088"/><rect x="100" y="3" width="1" height="1" fill="#0a0ae6"/><rect x="101" y="3" width="1" height="1" fill="#7a7a6a"/><rect x="102" y="3" width="2" height="1" fill="#0a0ae6"/><rect x="104" y="3" width="3" height="1" fill="#000088"/><rect x="107" y="3" width="1" height="1" fill="#7a7a6a"/><rect x="108" y="3" width="2" height="1" fill="#000088"/><rect x="110" y="3" width="1" height="1" fill="#6868b8"/><rect x="111" y="3" width="2" height="1" fill="#000088"/><rect x="113" y="3" width="3" height="1" fill="#0a0ae6"/><rect x="116" y="3" width="5" height="1" fill="#000088"/><rect x="122" y="3" width="1" height="1" fill="#000088"/><rect x="125" y="3" width="1" height="1" fill="#6868b8"/><rect x="126" y="3" width="1" height="1" fill="#000088"/><rect x="127" y="3" width="1" height="1" fill="#7a7a6a"/><rect x="129" y="3" width="2" height="1" fill="#000088"/><rect x="0" y="4" width="1" height="1" fill="#000088"/><rect x="2" y="4" width="1" height="1" fill="#000088"/><rect x="3" y="4" width="1" height="1" fill="#0a0ae6"/><rect x="4" y="4" width="1" height="1" fill="#000088"/><rect x="5" y="4" width="1" height="1" fill="#0a0ae6"/><rect x="7" y="4" width="1" height="1" fill="#000088"/><rect x="9" y="4" width="1" height="1" fill="#0a0ae6"/><rect x="11" y="4" width="1" height="1" fill="#7a7a6a"/><rect x="12" y="4" width="1" height="1" fill="#000088"/><rect x="14" y="4" width="1" height="1" fill="#0a0ae6"/><rect x="15" y="4" width="2" height="1" fill="#000088"/><rect x="17" y="4" width="1" height="1" fill="#0a0ae6"/><rect x="18" y="4" width="5" height="1" fill="#000088"/><rect x="24" y="4" width="1" height="1" fill="#000088"/><rect x="25" y="4" width="1" height="1" fill="#7a7a6a"/><rect x="27" y="4" width="1" height="1" fill="#000088"/><rect x="29" y="4" width="1" height="1" fill="#7a7a6a"/><rect x="31" y="4" width="3" height="1" fill="#000088"/><rect x="34" y="4" width="1" height="1" fill="#f0e020"/><rect x="35" y="4" width="1" height="1" fill="#0a0ae6"/><rect x="36" y="4" width="5" height="1" fill="#000088"/><rect x="42" y="4" width="1" height="1" fill="#000088"/><rect x="44" y="4" width="2" height="1" fill="#000088"/><rect x="46" y="4" width="1" height="1" fill="#0a0ae6"/><rect x="47" y="4" width="2" height="1" fill="#000088"/><rect x="51" y="4" width="1" height="1" fill="#7a7a6a"/><rect x="52" y="4" width="1" height="1" fill="#0a0ae6"/><rect x="55" y="4" width="1" height="1" fill="#0a0ae6"/><rect x="56" y="4" width="1" height="1" fill="#7a7a6a"/><rect x="57" y="4" width="1" height="1" fill="#000088"/><rect x="58" y="4" width="1" height="1" fill="#7a7a6a"/><rect x="59" y="4" width="1" height="1" fill="#000088"/><rect x="60" y="4" width="1" height="1" fill="#7a7a6a"/><rect x="61" y="4" width="1" height="1" fill="#0a0ae6"/><rect x="62" y="4" width="2" height="1" fill="#000088"/><rect x="65" y="4" width="4" height="1" fill="#000088"/><rect x="69" y="4" width="1" height="1" fill="#7a7a6a"/><rect x="70" y="4" width="1" height="1" fill="#f0e020"/><rect x="71" y="4" width="1" height="1" fill="#000088"/><rect x="72" y="4" width="1" height="1" fill="#0a0ae6"/><rect x="73" y="4" width="1" height="1" fill="#000088"/><rect x="74" y="4" width="1" height="1" fill="#0a0ae6"/><rect x="75" y="4" width="4" height="1" fill="#000088"/><rect x="80" y="4" width="1" height="1" fill="#0a0ae6"/><rect x="81" y="4" width="1" height="1" fill="#000088"/><rect x="83" y="4" width="1" height="1" fill="#f0e020"/><rect x="84" y="4" width="8" height="1" fill="#000088"/><rect x="92" y="4" width="1" height="1" fill="#0a0ae6"/><rect x="94" y="4" width="1" height="1" fill="#7a7a6a"/><rect x="95" y="4" width="2" height="1" fill="#000088"/><rect x="97" y="4" width="1" height="1" fill="#0a0ae6"/><rect x="98" y="4" width="4" height="1" fill="#000088"/><rect x="102" y="4" width="1" height="1" fill="#f0e020"/><rect x="103" y="4" width="1" height="1" fill="#000088"/><rect x="104" y="4" width="2" height="1" fill="#0a0ae6"/><rect x="107" y="4" width="5" height="1" fill="#000088"/><rect x="115" y="4" width="2" height="1" fill="#000088"/><rect x="117" y="4" width="1" height="1" fill="#7a7a6a"/><rect x="119" y="4" width="1" height="1" fill="#000088"/><rect x="120" y="4" width="1" height="1" fill="#0a0ae6"/><rect x="121" y="4" width="2" height="1" fill="#000088"/><rect x="126" y="4" width="1" height="1" fill="#f0e020"/><rect x="127" y="4" width="3" height="1" fill="#000088"/><rect x="130" y="4" width="1" height="1" fill="#0a0ae6"/><rect x="0" y="5" width="1" height="1" fill="#0a0ae6"/><rect x="2" y="5" width="1" height="1" fill="#7a7a6a"/><rect x="3" y="5" width="1" height="1" fill="#0a0ae6"/><rect x="4" y="5" width="1" height="1" fill="#7a7a6a"/><rect x="5" y="5" width="2" height="1" fill="#0a0ae6"/><rect x="7" y="5" width="1" height="1" fill="#000088"/><rect x="9" y="5" width="1" height="1" fill="#000088"/><rect x="11" y="5" width="1" height="1" fill="#0a0ae6"/><rect x="12" y="5" width="3" height="1" fill="#000088"/><rect x="15" y="5" width="2" height="1" fill="#0a0ae6"/><rect x="17" y="5" width="2" height="1" fill="#000088"/><rect x="19" y="5" width="2" height="1" fill="#0a0ae6"/><rect x="21" y="5" width="2" height="1" fill="#000088"/><rect x="23" y="5" width="1" height="1" fill="#0a0ae6"/><rect x="24" y="5" width="2" height="1" fill="#000088"/><rect x="26" y="5" width="1" height="1" fill="#0a0ae6"/><rect x="27" y="5" width="1" height="1" fill="#f0e020"/><rect x="28" y="5" width="1" height="1" fill="#0a0ae6"/><rect x="30" y="5" width="1" height="1" fill="#0a0ae6"/><rect x="31" y="5" width="2" height="1" fill="#000088"/><rect x="33" y="5" width="1" height="1" fill="#f0e020"/><rect x="34" y="5" width="1" height="1" fill="#7a7a6a"/><rect x="35" y="5" width="2" height="1" fill="#000088"/><rect x="37" y="5" width="3" height="1" fill="#0a0ae6"/><rect x="40" y="5" width="1" height="1" fill="#000088"/><rect x="41" y="5" width="1" height="1" fill="#0a0ae6"/><rect x="43" y="5" width="3" height="1" fill="#000088"/><rect x="46" y="5" width="2" height="1" fill="#0a0ae6"/><rect x="48" y="5" width="1" height="1" fill="#000088"/><rect x="50" y="5" width="1" height="1" fill="#7a7a6a"/><rect x="51" y="5" width="1" height="1" fill="#0a0ae6"/><rect x="52" y="5" width="1" height="1" fill="#000088"/><rect x="53" y="5" width="1" height="1" fill="#f0e020"/><rect x="54" y="5" width="1" height="1" fill="#000088"/><rect x="56" y="5" width="2" height="1" fill="#000088"/><rect x="58" y="5" width="1" height="1" fill="#7a7a6a"/><rect x="59" y="5" width="1" height="1" fill="#000088"/><rect x="60" y="5" width="1" height="1" fill="#f0e020"/><rect x="61" y="5" width="1" height="1" fill="#0a0ae6"/><rect x="62" y="5" width="2" height="1" fill="#000088"/><rect x="64" y="5" width="2" height="1" fill="#0a0ae6"/><rect x="67" y="5" width="3" height="1" fill="#000088"/><rect x="70" y="5" width="1" height="1" fill="#f0e020"/><rect x="71" y="5" width="4" height="1" fill="#000088"/><rect x="77" y="5" width="1" height="1" fill="#7a7a6a"/><rect x="78" y="5" width="1" height="1" fill="#f0e020"/><rect x="80" y="5" width="2" height="1" fill="#000088"/><rect x="83" y="5" width="1" height="1" fill="#7a7a6a"/><rect x="84" y="5" width="1" height="1" fill="#000088"/><rect x="85" y="5" width="1" height="1" fill="#0a0ae6"/><rect x="86" y="5" width="7" height="1" fill="#000088"/><rect x="93" y="5" width="1" height="1" fill="#f0e020"/><rect x="94" y="5" width="1" height="1" fill="#000088"/><rect x="95" y="5" width="1" height="1" fill="#f0e020"/><rect x="96" y="5" width="2" height="1" fill="#000088"/><rect x="100" y="5" width="1" height="1" fill="#0a0ae6"/><rect x="101" y="5" width="1" height="1" fill="#000088"/><rect x="102" y="5" width="1" height="1" fill="#0a0ae6"/><rect x="103" y="5" width="1" height="1" fill="#000088"/><rect x="105" y="5" width="2" height="1" fill="#000088"/><rect x="108" y="5" width="1" height="1" fill="#000088"/><rect x="109" y="5" width="1" height="1" fill="#0a0ae6"/><rect x="111" y="5" width="1" height="1" fill="#7a7a6a"/><rect x="112" y="5" width="3" height="1" fill="#000088"/><rect x="116" y="5" width="1" height="1" fill="#000088"/><rect x="117" y="5" width="1" height="1" fill="#7a7a6a"/><rect x="119" y="5" width="2" height="1" fill="#000088"/><rect x="121" y="5" width="1" height="1" fill="#f0e020"/><rect x="122" y="5" width="1" height="1" fill="#0a0ae6"/><rect x="123" y="5" width="1" height="1" fill="#000088"/><rect x="124" y="5" width="1" height="1" fill="#7a7a6a"/><rect x="125" y="5" width="3" height="1" fill="#000088"/><rect x="128" y="5" width="1" height="1" fill="#7a7a6a"/><rect x="130" y="5" width="1" height="1" fill="#0a0ae6"/><rect x="0" y="6" width="1" height="1" fill="#f0e020"/><rect x="1" y="6" width="2" height="1" fill="#000088"/><rect x="3" y="6" width="1" height="1" fill="#0a0ae6"/><rect x="4" y="6" width="2" height="1" fill="#f0e020"/><rect x="6" y="6" width="1" height="1" fill="#0a0ae6"/><rect x="7" y="6" width="1" height="1" fill="#000088"/><rect x="8" y="6" width="2" height="1" fill="#0a0ae6"/><rect x="11" y="6" width="1" height="1" fill="#000088"/><rect x="16" y="6" width="4" height="1" fill="#0a0ae6"/><rect x="21" y="6" width="2" height="1" fill="#000088"/><rect x="24" y="6" width="3" height="1" fill="#000088"/><rect x="27" y="6" width="2" height="1" fill="#0a0ae6"/><rect x="29" y="6" width="1" height="1" fill="#f0e020"/><rect x="31" y="6" width="1" height="1" fill="#f0e020"/><rect x="32" y="6" width="3" height="1" fill="#000088"/><rect x="35" y="6" width="1" height="1" fill="#0a0ae6"/><rect x="37" y="6" width="1" height="1" fill="#0a0ae6"/><rect x="38" y="6" width="1" height="1" fill="#000088"/><rect x="39" y="6" width="2" height="1" fill="#0a0ae6"/><rect x="41" y="6" width="1" height="1" fill="#7a7a6a"/><rect x="44" y="6" width="1" height="1" fill="#7a7a6a"/><rect x="45" y="6" width="1" height="1" fill="#000088"/><rect x="47" y="6" width="1" height="1" fill="#000088"/><rect x="48" y="6" width="2" height="1" fill="#0a0ae6"/><rect x="51" y="6" width="4" height="1" fill="#000088"/><rect x="56" y="6" width="3" height="1" fill="#0a0ae6"/><rect x="59" y="6" width="1" height="1" fill="#f0e020"/><rect x="60" y="6" width="1" height="1" fill="#0a0ae6"/><rect x="61" y="6" width="1" height="1" fill="#000088"/><rect x="63" y="6" width="1" height="1" fill="#7a7a6a"/><rect x="64" y="6" width="1" height="1" fill="#f0e020"/><rect x="65" y="6" width="1" height="1" fill="#000088"/><rect x="66" y="6" width="1" height="1" fill="#0a0ae6"/><rect x="70" y="6" width="4" height="1" fill="#000088"/><rect x="74" y="6" width="1" height="1" fill="#f0e020"/><rect x="75" y="6" width="1" height="1" fill="#0a0ae6"/><rect x="76" y="6" width="1" height="1" fill="#f0e020"/><rect x="77" y="6" width="1" height="1" fill="#0a0ae6"/><rect x="79" y="6" width="1" height="1" fill="#0a0ae6"/><rect x="80" y="6" width="1" height="1" fill="#000088"/><rect x="82" y="6" width="1" height="1" fill="#f0e020"/><rect x="83" y="6" width="1" height="1" fill="#000088"/><rect x="84" y="6" width="2" height="1" fill="#0a0ae6"/><rect x="86" y="6" width="1" height="1" fill="#000088"/><rect x="87" y="6" width="1" height="1" fill="#0a0ae6"/><rect x="88" y="6" width="3" height="1" fill="#000088"/><rect x="91" y="6" width="1" height="1" fill="#0a0ae6"/><rect x="92" y="6" width="1" height="1" fill="#7a7a6a"/><rect x="93" y="6" width="2" height="1" fill="#000088"/><rect x="95" y="6" width="1" height="1" fill="#0a0ae6"/><rect x="96" y="6" width="1" height="1" fill="#7a7a6a"/><rect x="97" y="6" width="1" height="1" fill="#000088"/><rect x="98" y="6" width="1" height="1" fill="#0a0ae6"/><rect x="99" y="6" width="1" height="1" fill="#000088"/><rect x="101" y="6" width="1" height="1" fill="#0a0ae6"/><rect x="102" y="6" width="2" height="1" fill="#000088"/><rect x="104" y="6" width="3" height="1" fill="#0a0ae6"/><rect x="107" y="6" width="2" height="1" fill="#000088"/><rect x="110" y="6" width="1" height="1" fill="#0a0ae6"/><rect x="111" y="6" width="1" height="1" fill="#000088"/><rect x="112" y="6" width="1" height="1" fill="#0a0ae6"/><rect x="113" y="6" width="1" height="1" fill="#f0e020"/><rect x="114" y="6" width="4" height="1" fill="#0a0ae6"/><rect x="119" y="6" width="1" height="1" fill="#f0e020"/><rect x="120" y="6" width="1" height="1" fill="#0a0ae6"/><rect x="121" y="6" width="1" height="1" fill="#000088"/><rect x="123" y="6" width="2" height="1" fill="#000088"/><rect x="126" y="6" width="1" height="1" fill="#0a0ae6"/><rect x="128" y="6" width="1" height="1" fill="#0a0ae6"/><rect x="130" y="6" width="1" height="1" fill="#0a0ae6"/><rect x="0" y="7" width="2" height="1" fill="#000088"/><rect x="4" y="7" width="1" height="1" fill="#f0e020"/><rect x="5" y="7" width="1" height="1" fill="#000088"/><rect x="7" y="7" width="2" height="1" fill="#0a0ae6"/><rect x="9" y="7" width="1" height="1" fill="#000088"/><rect x="10" y="7" width="2" height="1" fill="#0a0ae6"/><rect x="12" y="7" width="1" height="1" fill="#f0e020"/><rect x="13" y="7" width="1" height="1" fill="#000088"/><rect x="14" y="7" width="1" height="1" fill="#0a0ae6"/><rect x="16" y="7" width="1" height="1" fill="#ffffff"/><rect x="17" y="7" width="1" height="1" fill="#0a0ae6"/><rect x="18" y="7" width="1" height="1" fill="#000088"/><rect x="19" y="7" width="1" height="1" fill="#f0e020"/><rect x="20" y="7" width="1" height="1" fill="#ffffff"/><rect x="21" y="7" width="1" height="1" fill="#0a0ae6"/><rect x="22" y="7" width="1" height="1" fill="#000088"/><rect x="23" y="7" width="1" height="1" fill="#f0e020"/><rect x="24" y="7" width="1" height="1" fill="#0a0ae6"/><rect x="25" y="7" width="1" height="1" fill="#f0e020"/><rect x="28" y="7" width="1" height="1" fill="#000088"/><rect x="30" y="7" width="2" height="1" fill="#0a0ae6"/><rect x="34" y="7" width="5" height="1" fill="#0a0ae6"/><rect x="39" y="7" width="1" height="1" fill="#000088"/><rect x="40" y="7" width="1" height="1" fill="#0a0ae6"/><rect x="42" y="7" width="1" height="1" fill="#f0e020"/><rect x="43" y="7" width="1" height="1" fill="#000088"/><rect x="46" y="7" width="1" height="1" fill="#000088"/><rect x="48" y="7" width="1" height="1" fill="#000088"/><rect x="52" y="7" width="2" height="1" fill="#0a0ae6"/><rect x="55" y="7" width="1" height="1" fill="#0a0ae6"/><rect x="57" y="7" width="2" height="1" fill="#0a0ae6"/><rect x="59" y="7" width="1" height="1" fill="#000088"/><rect x="61" y="7" width="2" height="1" fill="#0a0ae6"/><rect x="65" y="7" width="1" height="1" fill="#0a0ae6"/><rect x="66" y="7" width="1" height="1" fill="#000088"/><rect x="67" y="7" width="1" height="1" fill="#0a0ae6"/><rect x="68" y="7" width="2" height="1" fill="#000088"/><rect x="70" y="7" width="1" height="1" fill="#0a0ae6"/><rect x="71" y="7" width="1" height="1" fill="#000088"/><rect x="72" y="7" width="2" height="1" fill="#0a0ae6"/><rect x="74" y="7" width="1" height="1" fill="#000088"/><rect x="76" y="7" width="1" height="1" fill="#000088"/><rect x="79" y="7" width="1" height="1" fill="#0a0ae6"/><rect x="80" y="7" width="1" height="1" fill="#000088"/><rect x="81" y="7" width="2" height="1" fill="#0a0ae6"/><rect x="83" y="7" width="1" height="1" fill="#f0e020"/><rect x="84" y="7" width="1" height="1" fill="#000088"/><rect x="86" y="7" width="1" height="1" fill="#ffffff"/><rect x="89" y="7" width="1" height="1" fill="#0a0ae6"/><rect x="90" y="7" width="1" height="1" fill="#ffffff"/><rect x="91" y="7" width="1" height="1" fill="#0a0ae6"/><rect x="92" y="7" width="2" height="1" fill="#f0e020"/><rect x="94" y="7" width="1" height="1" fill="#000088"/><rect x="96" y="7" width="1" height="1" fill="#f0e020"/><rect x="97" y="7" width="1" height="1" fill="#000088"/><rect x="98" y="7" width="1" height="1" fill="#0a0ae6"/><rect x="100" y="7" width="1" height="1" fill="#000088"/><rect x="101" y="7" width="1" height="1" fill="#f0e020"/><rect x="102" y="7" width="1" height="1" fill="#0a0ae6"/><rect x="104" y="7" width="1" height="1" fill="#000088"/><rect x="105" y="7" width="1" height="1" fill="#0a0ae6"/><rect x="106" y="7" width="1" height="1" fill="#f0e020"/><rect x="107" y="7" width="4" height="1" fill="#0a0ae6"/><rect x="111" y="7" width="1" height="1" fill="#000088"/><rect x="112" y="7" width="1" height="1" fill="#0a0ae6"/><rect x="113" y="7" width="1" height="1" fill="#000088"/><rect x="114" y="7" width="1" height="1" fill="#f0e020"/><rect x="116" y="7" width="1" height="1" fill="#f0e020"/><rect x="117" y="7" width="1" height="1" fill="#000088"/><rect x="119" y="7" width="1" height="1" fill="#000088"/><rect x="122" y="7" width="1" height="1" fill="#0a0ae6"/><rect x="126" y="7" width="1" height="1" fill="#f0e020"/><rect x="127" y="7" width="1" height="1" fill="#000088"/><rect x="128" y="7" width="1" height="1" fill="#ffffff"/><rect x="130" y="7" width="1" height="1" fill="#0a0ae6"/><rect x="1" y="8" width="1" height="1" fill="#0a0ae6"/><rect x="2" y="8" width="1" height="1" fill="#ffffff"/><rect x="4" y="8" width="1" height="1" fill="#0a0ae6"/><rect x="7" y="8" width="1" height="1" fill="#0a0ae6"/><rect x="9" y="8" width="1" height="1" fill="#000088"/><rect x="11" y="8" width="1" height="1" fill="#0a0ae6"/><rect x="13" y="8" width="1" height="1" fill="#ffffff"/><rect x="16" y="8" width="1" height="1" fill="#0a0ae6"/><rect x="17" y="8" width="2" height="1" fill="#000088"/><rect x="19" y="8" width="1" height="1" fill="#0a0ae6"/><rect x="23" y="8" width="1" height="1" fill="#f0e020"/><rect x="24" y="8" width="2" height="1" fill="#0a0ae6"/><rect x="27" y="8" width="2" height="1" fill="#000088"/><rect x="29" y="8" width="4" height="1" fill="#0a0ae6"/><rect x="35" y="8" width="1" height="1" fill="#0a0ae6"/><rect x="38" y="8" width="1" height="1" fill="#0a0ae6"/><rect x="39" y="8" width="1" height="1" fill="#ffffff"/><rect x="40" y="8" width="2" height="1" fill="#0a0ae6"/><rect x="42" y="8" width="1" height="1" fill="#000088"/><rect x="44" y="8" width="1" height="1" fill="#f0e020"/><rect x="47" y="8" width="1" height="1" fill="#0a0ae6"/><rect x="48" y="8" width="1" height="1" fill="#000088"/><rect x="51" y="8" width="1" height="1" fill="#0a0ae6"/><rect x="54" y="8" width="1" height="1" fill="#ffffff"/><rect x="56" y="8" width="1" height="1" fill="#0a0ae6"/><rect x="57" y="8" width="1" height="1" fill="#f0e020"/><rect x="58" y="8" width="1" height="1" fill="#000088"/><rect x="61" y="8" width="1" height="1" fill="#0a0ae6"/><rect x="62" y="8" width="1" height="1" fill="#000088"/><rect x="64" y="8" width="1" height="1" fill="#000088"/><rect x="66" y="8" width="1" height="1" fill="#ffffff"/><rect x="67" y="8" width="2" height="1" fill="#0a0ae6"/><rect x="73" y="8" width="3" height="1" fill="#0a0ae6"/><rect x="76" y="8" width="1" height="1" fill="#000088"/><rect x="77" y="8" width="1" height="1" fill="#f0e020"/><rect x="80" y="8" width="1" height="1" fill="#000088"/><rect x="81" y="8" width="1" height="1" fill="#f0e020"/><rect x="86" y="8" width="3" height="1" fill="#0a0ae6"/><rect x="89" y="8" width="1" height="1" fill="#000088"/><rect x="90" y="8" width="1" height="1" fill="#0a0ae6"/><rect x="93" y="8" width="1" height="1" fill="#f0e020"/><rect x="95" y="8" width="1" height="1" fill="#0a0ae6"/><rect x="100" y="8" width="1" height="1" fill="#0a0ae6"/><rect x="102" y="8" width="1" height="1" fill="#ffffff"/><rect x="103" y="8" width="1" height="1" fill="#0a0ae6"/><rect x="104" y="8" width="1" height="1" fill="#f0e020"/><rect x="105" y="8" width="1" height="1" fill="#000088"/><rect x="106" y="8" width="2" height="1" fill="#0a0ae6"/><rect x="109" y="8" width="1" height="1" fill="#ffffff"/><rect x="111" y="8" width="1" height="1" fill="#0a0ae6"/><rect x="112" y="8" width="1" height="1" fill="#f0e020"/><rect x="113" y="8" width="2" height="1" fill="#0a0ae6"/><rect x="115" y="8" width="1" height="1" fill="#f0e020"/><rect x="119" y="8" width="1" height="1" fill="#ffffff"/><rect x="121" y="8" width="1" height="1" fill="#f0e020"/><rect x="123" y="8" width="1" height="1" fill="#f0e020"/><rect x="127" y="8" width="2" height="1" fill="#0a0ae6"/><rect x="130" y="8" width="1" height="1" fill="#000088"/><rect x="0" y="9" width="1" height="1" fill="#ffffff"/><rect x="1" y="9" width="1" height="1" fill="#0a0ae6"/><rect x="2" y="9" width="1" height="1" fill="#000088"/><rect x="3" y="9" width="1" height="1" fill="#0a0ae6"/><rect x="4" y="9" width="1" height="1" fill="#ffffff"/><rect x="6" y="9" width="1" height="1" fill="#0a0ae6"/><rect x="7" y="9" width="1" height="1" fill="#000088"/><rect x="8" y="9" width="1" height="1" fill="#0a0ae6"/><rect x="13" y="9" width="1" height="1" fill="#0a0ae6"/><rect x="16" y="9" width="2" height="1" fill="#f0e020"/><rect x="18" y="9" width="1" height="1" fill="#ffffff"/><rect x="19" y="9" width="1" height="1" fill="#0a0ae6"/><rect x="20" y="9" width="1" height="1" fill="#f0e020"/><rect x="21" y="9" width="2" height="1" fill="#ffffff"/><rect x="23" y="9" width="3" height="1" fill="#0a0ae6"/><rect x="26" y="9" width="1" height="1" fill="#000088"/><rect x="27" y="9" width="2" height="1" fill="#f0e020"/><rect x="30" y="9" width="1" height="1" fill="#f0e020"/><rect x="33" y="9" width="2" height="1" fill="#0a0ae6"/><rect x="36" y="9" width="1" height="1" fill="#0a0ae6"/><rect x="39" y="9" width="1" height="1" fill="#000088"/><rect x="40" y="9" width="1" height="1" fill="#0a0ae6"/><rect x="45" y="9" width="1" height="1" fill="#ffffff"/><rect x="47" y="9" width="1" height="1" fill="#f0e020"/><rect x="49" y="9" width="1" height="1" fill="#000088"/><rect x="56" y="9" width="1" height="1" fill="#0a0ae6"/><rect x="57" y="9" width="1" height="1" fill="#f0e020"/><rect x="58" y="9" width="1" height="1" fill="#0a0ae6"/><rect x="59" y="9" width="1" height="1" fill="#f0e020"/><rect x="60" y="9" width="1" height="1" fill="#0a0ae6"/><rect x="61" y="9" width="1" height="1" fill="#000088"/><rect x="62" y="9" width="1" height="1" fill="#0a0ae6"/><rect x="64" y="9" width="1" height="1" fill="#ffffff"/><rect x="65" y="9" width="1" height="1" fill="#000088"/><rect x="68" y="9" width="1" height="1" fill="#f0e020"/><rect x="69" y="9" width="1" height="1" fill="#0a0ae6"/><rect x="72" y="9" width="1" height="1" fill="#f0e020"/><rect x="74" y="9" width="1" height="1" fill="#ffffff"/><rect x="76" y="9" width="1" height="1" fill="#0a0ae6"/><rect x="79" y="9" width="1" height="1" fill="#0a0ae6"/><rect x="81" y="9" width="1" height="1" fill="#0a0ae6"/><rect x="89" y="9" width="1" height="1" fill="#ffffff"/><rect x="90" y="9" width="1" height="1" fill="#0a0ae6"/><rect x="91" y="9" width="1" height="1" fill="#ffffff"/><rect x="92" y="9" width="1" height="1" fill="#000088"/><rect x="93" y="9" width="1" height="1" fill="#0a0ae6"/><rect x="95" y="9" width="1" height="1" fill="#ffffff"/><rect x="98" y="9" width="1" height="1" fill="#ffffff"/><rect x="99" y="9" width="1" height="1" fill="#0a0ae6"/><rect x="107" y="9" width="1" height="1" fill="#0a0ae6"/><rect x="108" y="9" width="1" height="1" fill="#f0e020"/><rect x="111" y="9" width="1" height="1" fill="#0a0ae6"/><rect x="115" y="9" width="1" height="1" fill="#0a0ae6"/><rect x="117" y="9" width="1" height="1" fill="#ffffff"/><rect x="118" y="9" width="2" height="1" fill="#0a0ae6"/><rect x="122" y="9" width="1" height="1" fill="#f0e020"/><rect x="123" y="9" width="3" height="1" fill="#0a0ae6"/><rect x="128" y="9" width="1" height="1" fill="#0a0ae6"/><rect x="130" y="9" width="1" height="1" fill="#0a0ae6"/><rect x="0" y="10" width="1" height="1" fill="#ffffff"/><rect x="2" y="10" width="1" height="1" fill="#0a0ae6"/><rect x="3" y="10" width="1" height="1" fill="#ffffff"/><rect x="4" y="10" width="1" height="1" fill="#0a0ae6"/><rect x="6" y="10" width="1" height="1" fill="#ffffff"/><rect x="7" y="10" width="1" height="1" fill="#f0e020"/><rect x="12" y="10" width="1" height="1" fill="#0a0ae6"/><rect x="15" y="10" width="1" height="1" fill="#0a0ae6"/><rect x="17" y="10" width="1" height="1" fill="#f0e020"/><rect x="26" y="10" width="1" height="1" fill="#ffffff"/><rect x="33" y="10" width="1" height="1" fill="#ffffff"/><rect x="34" y="10" width="1" height="1" fill="#f0e020"/><rect x="36" y="10" width="1" height="1" fill="#ffffff"/><rect x="42" y="10" width="1" height="1" fill="#0a0ae6"/><rect x="44" y="10" width="1" height="1" fill="#f0e020"/><rect x="53" y="10" width="1" height="1" fill="#ffffff"/><rect x="56" y="10" width="1" height="1" fill="#f0e020"/><rect x="59" y="10" width="1" height="1" fill="#ffffff"/><rect x="60" y="10" width="1" height="1" fill="#0a0ae6"/><rect x="63" y="10" width="1" height="1" fill="#f0e020"/><rect x="64" y="10" width="1" height="1" fill="#ffffff"/><rect x="66" y="10" width="1" height="1" fill="#0a0ae6"/><rect x="72" y="10" width="1" height="1" fill="#f0e020"/><rect x="75" y="10" width="1" height="1" fill="#ffffff"/><rect x="79" y="10" width="1" height="1" fill="#f0e020"/><rect x="80" y="10" width="1" height="1" fill="#0a0ae6"/><rect x="81" y="10" width="1" height="1" fill="#ffffff"/><rect x="83" y="10" width="1" height="1" fill="#0a0ae6"/><rect x="86" y="10" width="1" height="1" fill="#0a0ae6"/><rect x="94" y="10" width="1" height="1" fill="#ffffff"/><rect x="97" y="10" width="1" height="1" fill="#f0e020"/><rect x="100" y="10" width="1" height="1" fill="#0a0ae6"/><rect x="101" y="10" width="2" height="1" fill="#f0e020"/><rect x="107" y="10" width="1" height="1" fill="#ffffff"/><rect x="110" y="10" width="2" height="1" fill="#f0e020"/><rect x="115" y="10" width="1" height="1" fill="#0a0ae6"/><rect x="116" y="10" width="1" height="1" fill="#ffffff"/><rect x="118" y="10" width="1" height="1" fill="#ffffff"/><rect x="124" y="10" width="1" height="1" fill="#0a0ae6"/><rect x="3" y="11" width="2" height="1" fill="#ffffff"/><rect x="5" y="11" width="1" height="1" fill="#0a0ae6"/><rect x="6" y="11" width="2" height="1" fill="#ffffff"/><rect x="8" y="11" width="1" height="1" fill="#f0e020"/><rect x="10" y="11" width="1" height="1" fill="#ffffff"/><rect x="12" y="11" width="2" height="1" fill="#0a0ae6"/><rect x="14" y="11" width="1" height="1" fill="#ffffff"/><rect x="20" y="11" width="1" height="1" fill="#f0e020"/><rect x="23" y="11" width="1" height="1" fill="#ffffff"/><rect x="24" y="11" width="1" height="1" fill="#f0e020"/><rect x="26" y="11" width="1" height="1" fill="#ffffff"/><rect x="28" y="11" width="1" height="1" fill="#f0e020"/><rect x="30" y="11" width="1" height="1" fill="#ffffff"/><rect x="31" y="11" width="1" height="1" fill="#f0e020"/><rect x="32" y="11" width="1" height="1" fill="#ffffff"/><rect x="38" y="11" width="1" height="1" fill="#ffffff"/><rect x="44" y="11" width="1" height="1" fill="#0a0ae6"/><rect x="50" y="11" width="1" height="1" fill="#ffffff"/><rect x="51" y="11" width="1" height="1" fill="#0a0ae6"/><rect x="52" y="11" width="1" height="1" fill="#ffffff"/><rect x="56" y="11" width="1" height="1" fill="#ffffff"/><rect x="59" y="11" width="1" height="1" fill="#ffffff"/><rect x="63" y="11" width="1" height="1" fill="#0a0ae6"/><rect x="66" y="11" width="1" height="1" fill="#ffffff"/><rect x="68" y="11" width="1" height="1" fill="#ffffff"/><rect x="71" y="11" width="1" height="1" fill="#ffffff"/><rect x="72" y="11" width="1" height="1" fill="#0a0ae6"/><rect x="76" y="11" width="1" height="1" fill="#ffffff"/><rect x="80" y="11" width="1" height="1" fill="#f0e020"/><rect x="85" y="11" width="1" height="1" fill="#ffffff"/><rect x="87" y="11" width="1" height="1" fill="#ffffff"/><rect x="92" y="11" width="1" height="1" fill="#ffffff"/><rect x="94" y="11" width="1" height="1" fill="#f0e020"/><rect x="100" y="11" width="1" height="1" fill="#f0e020"/><rect x="101" y="11" width="1" height="1" fill="#0a0ae6"/><rect x="103" y="11" width="1" height="1" fill="#ffffff"/><rect x="105" y="11" width="1" height="1" fill="#0a0ae6"/><rect x="107" y="11" width="1" height="1" fill="#0a0ae6"/><rect x="109" y="11" width="1" height="1" fill="#ffffff"/><rect x="112" y="11" width="1" height="1" fill="#f0e020"/><rect x="113" y="11" width="1" height="1" fill="#ffffff"/><rect x="126" y="11" width="1" height="1" fill="#0a0ae6"/><rect x="127" y="11" width="1" height="1" fill="#f0e020"/><rect x="128" y="11" width="1" height="1" fill="#ffffff"/><rect x="0" y="12" width="1" height="1" fill="#ffffff"/><rect x="9" y="12" width="1" height="1" fill="#ffffff"/><rect x="14" y="12" width="1" height="1" fill="#f0e020"/><rect x="16" y="12" width="1" height="1" fill="#ffffff"/><rect x="18" y="12" width="1" height="1" fill="#0a0ae6"/><rect x="21" y="12" width="2" height="1" fill="#ffffff"/><rect x="29" y="12" width="2" height="1" fill="#0a0ae6"/><rect x="33" y="12" width="1" height="1" fill="#ffffff"/><rect x="35" y="12" width="1" height="1" fill="#ffffff"/><rect x="37" y="12" width="1" height="1" fill="#0a0ae6"/><rect x="45" y="12" width="1" height="1" fill="#ffffff"/><rect x="51" y="12" width="1" height="1" fill="#ffffff"/><rect x="53" y="12" width="1" height="1" fill="#ffffff"/><rect x="55" y="12" width="2" height="1" fill="#0a0ae6"/><rect x="58" y="12" width="1" height="1" fill="#f0e020"/><rect x="63" y="12" width="1" height="1" fill="#ffffff"/><rect x="71" y="12" width="1" height="1" fill="#f0e020"/><rect x="78" y="12" width="1" height="1" fill="#ffffff"/><rect x="83" y="12" width="1" height="1" fill="#ffffff"/><rect x="85" y="12" width="1" height="1" fill="#ffffff"/><rect x="88" y="12" width="2" height="1" fill="#ffffff"/><rect x="93" y="12" width="1" height="1" fill="#ffffff"/><rect x="97" y="12" width="1" height="1" fill="#ffffff"/><rect x="98" y="12" width="1" height="1" fill="#f0e020"/><rect x="100" y="12" width="1" height="1" fill="#0a0ae6"/><rect x="104" y="12" width="1" height="1" fill="#f0e020"/><rect x="105" y="12" width="1" height="1" fill="#ffffff"/><rect x="107" y="12" width="1" height="1" fill="#ffffff"/><rect x="108" y="12" width="1" height="1" fill="#f0e020"/><rect x="109" y="12" width="1" height="1" fill="#ffffff"/><rect x="112" y="12" width="1" height="1" fill="#ffffff"/><rect x="113" y="12" width="1" height="1" fill="#f0e020"/><rect x="115" y="12" width="1" height="1" fill="#ffffff"/><rect x="119" y="12" width="1" height="1" fill="#f0e020"/><rect x="122" y="12" width="1" height="1" fill="#ffffff"/><rect x="130" y="12" width="1" height="1" fill="#f0e020"/><rect x="6" y="13" width="2" height="1" fill="#ffffff"/><rect x="21" y="13" width="1" height="1" fill="#ffffff"/><rect x="32" y="13" width="2" height="1" fill="#ffffff"/><rect x="39" y="13" width="1" height="1" fill="#ffffff"/><rect x="42" y="13" width="1" height="1" fill="#ffffff"/><rect x="50" y="13" width="1" height="1" fill="#ffffff"/><rect x="52" y="13" width="2" height="1" fill="#ffffff"/><rect x="58" y="13" width="1" height="1" fill="#ffffff"/><rect x="62" y="13" width="1" height="1" fill="#ffffff"/><rect x="67" y="13" width="2" height="1" fill="#ffffff"/><rect x="73" y="13" width="2" height="1" fill="#ffffff"/><rect x="75" y="13" width="1" height="1" fill="#f0e020"/><rect x="80" y="13" width="1" height="1" fill="#ffffff"/><rect x="84" y="13" width="1" height="1" fill="#ffffff"/><rect x="102" y="13" width="1" height="1" fill="#ffffff"/><rect x="104" y="13" width="3" height="1" fill="#ffffff"/><rect x="110" y="13" width="2" height="1" fill="#ffffff"/><rect x="115" y="13" width="1" height="1" fill="#f0e020"/><rect x="124" y="13" width="1" height="1" fill="#ffffff"/><rect x="129" y="13" width="1" height="1" fill="#f0e020"/><rect x="3" y="14" width="1" height="1" fill="#ffffff"/><rect x="5" y="14" width="1" height="1" fill="#ffffff"/><rect x="7" y="14" width="1" height="1" fill="#ffffff"/><rect x="15" y="14" width="3" height="1" fill="#ffffff"/><rect x="20" y="14" width="1" height="1" fill="#ffffff"/><rect x="24" y="14" width="1" height="1" fill="#ffffff"/><rect x="34" y="14" width="1" height="1" fill="#ffffff"/><rect x="61" y="14" width="1" height="1" fill="#f0e020"/><rect x="64" y="14" width="1" height="1" fill="#ffffff"/><rect x="66" y="14" width="1" height="1" fill="#ffffff"/><rect x="81" y="14" width="1" height="1" fill="#f0e020"/><rect x="87" y="14" width="2" height="1" fill="#ffffff"/><rect x="94" y="14" width="1" height="1" fill="#ffffff"/><rect x="110" y="14" width="1" height="1" fill="#f0e020"/><rect x="121" y="14" width="1" height="1" fill="#f0e020"/><rect x="127" y="14" width="1" height="1" fill="#ffffff"/><rect x="2" y="15" width="1" height="1" fill="#ffffff"/><rect x="8" y="15" width="1" height="1" fill="#ffffff"/><rect x="10" y="15" width="1" height="1" fill="#ffffff"/><rect x="15" y="15" width="2" height="1" fill="#ffffff"/><rect x="27" y="15" width="1" height="1" fill="#ffffff"/><rect x="29" y="15" width="1" height="1" fill="#ffffff"/><rect x="40" y="15" width="1" height="1" fill="#ffffff"/><rect x="45" y="15" width="1" height="1" fill="#ffffff"/><rect x="51" y="15" width="1" height="1" fill="#ffffff"/><rect x="88" y="15" width="1" height="1" fill="#ffffff"/><rect x="101" y="15" width="1" height="1" fill="#ffffff"/><rect x="117" y="15" width="1" height="1" fill="#ffffff"/><rect x="124" y="15" width="1" height="1" fill="#ffffff"/><rect x="22" y="16" width="1" height="1" fill="#ffffff"/><rect x="33" y="16" width="1" height="1" fill="#ffffff"/><rect x="41" y="16" width="1" height="1" fill="#ffffff"/><rect x="50" y="16" width="1" height="1" fill="#ffffff"/><rect x="54" y="16" width="1" height="1" fill="#ffffff"/><rect x="60" y="16" width="1" height="1" fill="#ffffff"/><rect x="67" y="16" width="1" height="1" fill="#ffffff"/><rect x="79" y="16" width="1" height="1" fill="#ffffff"/><rect x="97" y="16" width="1" height="1" fill="#ffffff"/><rect x="127" y="16" width="1" height="1" fill="#ffffff"/></pattern><clipPath id="nbc"><path d="M66 977 L1668 977 L1630 994 L104 994 Z"/></clipPath></defs><rect x="0" y="977" width="1732" height="17" fill="url(#nz)" clip-path="url(#nbc)"/></svg>
</body></html>
